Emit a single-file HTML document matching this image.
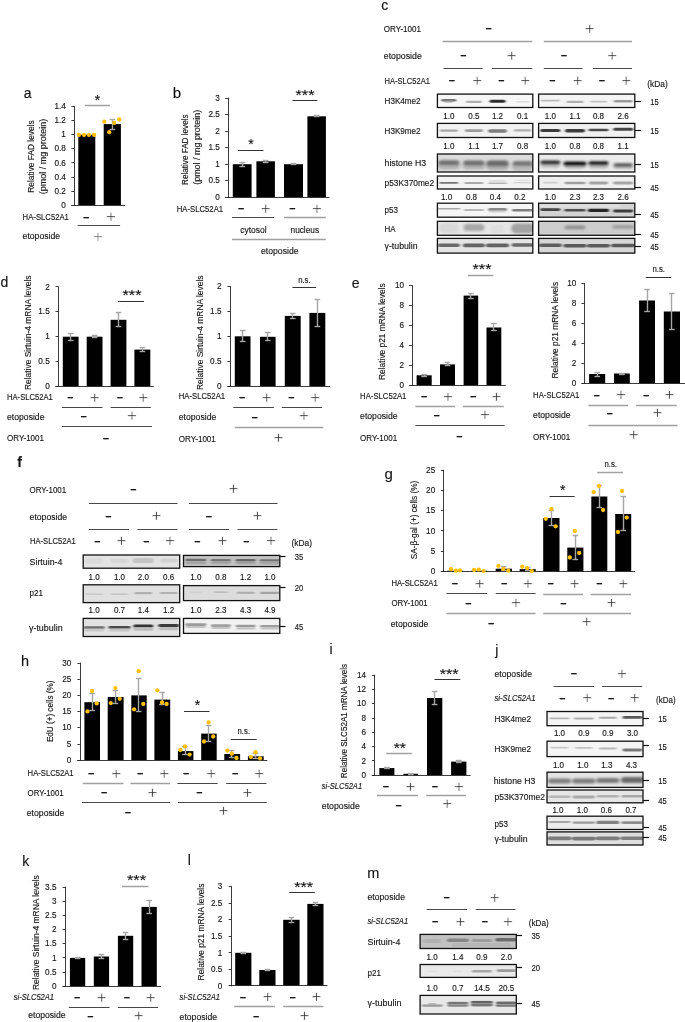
<!DOCTYPE html>
<html lang="en"><head><meta charset="utf-8"><title>Figure</title>
<style>html,body{margin:0;padding:0;background:#fff}svg{display:block;will-change:transform;opacity:.999}text{font-family:"Liberation Sans",sans-serif;fill:#111;stroke:#222;stroke-width:.14px}</style>
</head><body>
<svg width="685" height="1022" viewBox="0 0 685 1022">
<defs><filter id="b1" x="-20%" y="-50%" width="140%" height="200%"><feGaussianBlur stdDeviation="1.1 0.6"/></filter><filter id="b2" x="-20%" y="-50%" width="140%" height="200%"><feGaussianBlur stdDeviation="1.6 1.1"/></filter></defs>
<rect width="685" height="1022" fill="#fff"/>
<text x="23.8" y="98.0" font-size="14">a</text>
<rect x="78.3" y="134.7" width="17.0" height="70.5" fill="#000"/>
<rect x="103.7" y="124.1" width="17.2" height="81.1" fill="#000"/>
<line x1="74.5" y1="106.1" x2="74.5" y2="205.6" stroke="#262626" stroke-width="0.9"/>
<line x1="71.4" y1="205.5" x2="125.0" y2="205.5" stroke="#262626" stroke-width="0.9"/>
<line x1="71.4" y1="205.5" x2="74.4" y2="205.5" stroke="#262626" stroke-width="0.9"/>
<text x="65.8" y="208.0" font-size="8.2" text-anchor="end" fill="#222">0</text>
<line x1="71.4" y1="191.5" x2="74.4" y2="191.5" stroke="#262626" stroke-width="0.9"/>
<text x="65.8" y="194.0" font-size="8.2" text-anchor="end" fill="#222">0.2</text>
<line x1="71.4" y1="177.5" x2="74.4" y2="177.5" stroke="#262626" stroke-width="0.9"/>
<text x="65.8" y="180.0" font-size="8.2" text-anchor="end" fill="#222">0.4</text>
<line x1="71.4" y1="162.5" x2="74.4" y2="162.5" stroke="#262626" stroke-width="0.9"/>
<text x="65.8" y="166.0" font-size="8.2" text-anchor="end" fill="#222">0.6</text>
<line x1="71.4" y1="148.5" x2="74.4" y2="148.5" stroke="#262626" stroke-width="0.9"/>
<text x="65.8" y="151.0" font-size="8.2" text-anchor="end" fill="#222">0.8</text>
<line x1="71.4" y1="134.5" x2="74.4" y2="134.5" stroke="#262626" stroke-width="0.9"/>
<text x="65.8" y="137.0" font-size="8.2" text-anchor="end" fill="#222">1</text>
<line x1="71.4" y1="120.5" x2="74.4" y2="120.5" stroke="#262626" stroke-width="0.9"/>
<text x="65.8" y="123.0" font-size="8.2" text-anchor="end" fill="#222">1.2</text>
<line x1="71.4" y1="106.5" x2="74.4" y2="106.5" stroke="#262626" stroke-width="0.9"/>
<text x="65.8" y="109.0" font-size="8.2" text-anchor="end" fill="#222">1.4</text>
<line x1="112.5" y1="119.3" x2="112.5" y2="129.4" stroke="#a6a6a6" stroke-width="1.4"/>
<line x1="109.6" y1="119.5" x2="115.2" y2="119.5" stroke="#a6a6a6" stroke-width="1.4"/>
<line x1="109.6" y1="129.5" x2="115.2" y2="129.5" stroke="#a6a6a6" stroke-width="1.4"/>
<circle cx="78.9" cy="134.9" r="2.15" fill="#ffc000"/>
<circle cx="84.1" cy="134.9" r="2.15" fill="#ffc000"/>
<circle cx="88.9" cy="134.9" r="2.15" fill="#ffc000"/>
<circle cx="94.1" cy="134.9" r="2.15" fill="#ffc000"/>
<circle cx="104.3" cy="121.7" r="2.15" fill="#ffc000"/>
<circle cx="109.2" cy="132.2" r="2.15" fill="#ffc000"/>
<circle cx="114.3" cy="122.9" r="2.15" fill="#ffc000"/>
<circle cx="119.3" cy="119.5" r="2.15" fill="#ffc000"/>
<line x1="84.8" y1="105.5" x2="109.9" y2="105.5" stroke="#a0a0a0" stroke-width="1.5"/>
<text x="97.4" y="105.0" font-size="14" text-anchor="middle">*</text>
<text transform="translate(34 156.5) rotate(-90)" x="0" y="0" font-size="8.5" text-anchor="middle" textLength="72.5" lengthAdjust="spacingAndGlyphs">Relative FAD levels</text>
<text transform="translate(46 156.5) rotate(-90)" x="0" y="0" font-size="8.5" text-anchor="middle" textLength="75.5" lengthAdjust="spacingAndGlyphs">(pmol / mg protein)</text>
<text x="22.6" y="220.0" font-size="8.5" textLength="46.3" lengthAdjust="spacingAndGlyphs">HA-SLC52A1</text>
<text x="86.2" y="220.60" font-size="10.5" font-weight="bold" text-anchor="middle" style="stroke:#111;stroke-width:.25px">–</text>
<text x="110.9" y="222.3" font-size="17" text-anchor="middle" style="fill:#222;stroke:#fff;stroke-width:.42px">+</text>
<line x1="77.6" y1="225.5" x2="120.1" y2="225.5" stroke="#333" stroke-width="0.9"/>
<text x="22.6" y="239.0" font-size="8.5" textLength="37.5" lengthAdjust="spacingAndGlyphs">etoposide</text>
<text x="98.0" y="241.5" font-size="17" text-anchor="middle" style="fill:#666;stroke:#fff;stroke-width:.42px">+</text>
<text x="172.8" y="98.0" font-size="15">b</text>
<rect x="232.8" y="164.2" width="18.8" height="33.1" fill="#000"/>
<rect x="256.4" y="161.3" width="18.5" height="36.0" fill="#000"/>
<rect x="284.0" y="164.2" width="19.0" height="33.1" fill="#000"/>
<rect x="307.4" y="116.3" width="18.5" height="81.0" fill="#000"/>
<line x1="228.5" y1="97.7" x2="228.5" y2="197.7" stroke="#262626" stroke-width="0.9"/>
<line x1="225.2" y1="197.5" x2="329.6" y2="197.5" stroke="#262626" stroke-width="0.9"/>
<line x1="225.2" y1="197.5" x2="228.2" y2="197.5" stroke="#262626" stroke-width="0.9"/>
<text x="219.8" y="200.0" font-size="8.2" text-anchor="end" fill="#222">0</text>
<line x1="225.2" y1="180.5" x2="228.2" y2="180.5" stroke="#262626" stroke-width="0.9"/>
<text x="219.8" y="183.0" font-size="8.2" text-anchor="end" fill="#222">0.5</text>
<line x1="225.2" y1="164.5" x2="228.2" y2="164.5" stroke="#262626" stroke-width="0.9"/>
<text x="219.8" y="167.0" font-size="8.2" text-anchor="end" fill="#222">1</text>
<line x1="225.2" y1="147.5" x2="228.2" y2="147.5" stroke="#262626" stroke-width="0.9"/>
<text x="219.8" y="150.0" font-size="8.2" text-anchor="end" fill="#222">1.5</text>
<line x1="225.2" y1="131.5" x2="228.2" y2="131.5" stroke="#262626" stroke-width="0.9"/>
<text x="219.8" y="134.0" font-size="8.2" text-anchor="end" fill="#222">2</text>
<line x1="225.2" y1="114.5" x2="228.2" y2="114.5" stroke="#262626" stroke-width="0.9"/>
<text x="219.8" y="117.0" font-size="8.2" text-anchor="end" fill="#222">2.5</text>
<line x1="225.2" y1="98.5" x2="228.2" y2="98.5" stroke="#262626" stroke-width="0.9"/>
<text x="219.8" y="101.0" font-size="8.2" text-anchor="end" fill="#222">3</text>
<line x1="242.5" y1="162.2" x2="242.5" y2="166.2" stroke="#a6a6a6" stroke-width="1.4"/>
<line x1="239.4" y1="162.5" x2="245.0" y2="162.5" stroke="#a6a6a6" stroke-width="1.4"/>
<line x1="239.4" y1="166.5" x2="245.0" y2="166.5" stroke="#a6a6a6" stroke-width="1.4"/>
<line x1="265.5" y1="160.3" x2="265.5" y2="162.2" stroke="#a6a6a6" stroke-width="1.4"/>
<line x1="262.8" y1="160.5" x2="268.4" y2="160.5" stroke="#a6a6a6" stroke-width="1.4"/>
<line x1="262.8" y1="162.5" x2="268.4" y2="162.5" stroke="#a6a6a6" stroke-width="1.4"/>
<line x1="293.5" y1="163.6" x2="293.5" y2="164.9" stroke="#a6a6a6" stroke-width="1.4"/>
<line x1="290.7" y1="163.5" x2="296.3" y2="163.5" stroke="#a6a6a6" stroke-width="1.4"/>
<line x1="290.7" y1="164.5" x2="296.3" y2="164.5" stroke="#a6a6a6" stroke-width="1.4"/>
<line x1="316.5" y1="115.6" x2="316.5" y2="116.9" stroke="#a6a6a6" stroke-width="1.4"/>
<line x1="313.8" y1="115.5" x2="319.4" y2="115.5" stroke="#a6a6a6" stroke-width="1.4"/>
<line x1="313.8" y1="116.5" x2="319.4" y2="116.5" stroke="#a6a6a6" stroke-width="1.4"/>
<line x1="238.0" y1="150.5" x2="263.5" y2="150.5" stroke="#333" stroke-width="1"/>
<text x="250.9" y="149.0" font-size="14" text-anchor="middle">*</text>
<line x1="292.4" y1="100.5" x2="317.4" y2="100.5" stroke="#333" stroke-width="1"/>
<text x="305.0" y="100.0" font-size="14" text-anchor="middle" textLength="19.0" lengthAdjust="spacingAndGlyphs">***</text>
<text transform="translate(188 149.7) rotate(-90)" x="0" y="0" font-size="8.5" text-anchor="middle" textLength="70.5" lengthAdjust="spacingAndGlyphs">Relative FAD levels</text>
<text transform="translate(200 147.3) rotate(-90)" x="0" y="0" font-size="8.5" text-anchor="middle" textLength="75.0" lengthAdjust="spacingAndGlyphs">(pmol / mg protein)</text>
<text x="176.8" y="212.0" font-size="8.5" textLength="46.3" lengthAdjust="spacingAndGlyphs">HA-SLC52A1</text>
<text x="241.2" y="212.30" font-size="10.5" font-weight="bold" text-anchor="middle" style="stroke:#111;stroke-width:.25px">–</text>
<text x="265.6" y="214.0" font-size="17" text-anchor="middle" style="fill:#222;stroke:#fff;stroke-width:.42px">+</text>
<text x="292.4" y="212.30" font-size="10.5" font-weight="bold" text-anchor="middle" style="stroke:#111;stroke-width:.25px">–</text>
<text x="316.9" y="214.0" font-size="17" text-anchor="middle" style="fill:#222;stroke:#fff;stroke-width:.42px">+</text>
<line x1="232.0" y1="217.5" x2="274.0" y2="217.5" stroke="#333" stroke-width="0.9"/>
<line x1="284.0" y1="217.5" x2="325.8" y2="217.5" stroke="#a0a0a0" stroke-width="1.5"/>
<text x="253.5" y="233.0" font-size="8.5" text-anchor="middle" textLength="26.5" lengthAdjust="spacingAndGlyphs">cytosol</text>
<text x="304.8" y="233.0" font-size="8.5" text-anchor="middle" textLength="28.5" lengthAdjust="spacingAndGlyphs">nucleus</text>
<line x1="232.0" y1="239.5" x2="325.8" y2="239.5" stroke="#a0a0a0" stroke-width="1.5"/>
<text x="279.8" y="254.0" font-size="8.5" text-anchor="middle" textLength="37.5" lengthAdjust="spacingAndGlyphs">etoposide</text>
<text x="381.3" y="10.0" font-size="14">c</text>
<text x="383.8" y="32.0" font-size="8.5" textLength="37.2" lengthAdjust="spacingAndGlyphs">ORY-1001</text>
<text x="488.6" y="32.10" font-size="10.5" font-weight="bold" text-anchor="middle" style="stroke:#111;stroke-width:.25px">–</text>
<text x="589.8" y="33.6" font-size="17" text-anchor="middle" style="fill:#222;stroke:#fff;stroke-width:.42px">+</text>
<line x1="442.6" y1="41.5" x2="532.3" y2="41.5" stroke="#a0a0a0" stroke-width="1.5"/>
<line x1="543.8" y1="41.5" x2="632.0" y2="41.5" stroke="#a0a0a0" stroke-width="1.5"/>
<text x="383.8" y="59.0" font-size="8.5" textLength="38.0" lengthAdjust="spacingAndGlyphs">etoposide</text>
<text x="463.3" y="59.20" font-size="10.5" font-weight="bold" text-anchor="middle" style="stroke:#111;stroke-width:.25px">–</text>
<text x="511.6" y="60.9" font-size="17" text-anchor="middle" style="fill:#222;stroke:#fff;stroke-width:.42px">+</text>
<text x="564.0" y="59.20" font-size="10.5" font-weight="bold" text-anchor="middle" style="stroke:#111;stroke-width:.25px">–</text>
<text x="612.3" y="60.9" font-size="17" text-anchor="middle" style="fill:#222;stroke:#fff;stroke-width:.42px">+</text>
<line x1="443.6" y1="68.5" x2="482.6" y2="68.5" stroke="#333" stroke-width="0.9"/>
<line x1="491.8" y1="68.5" x2="532.3" y2="68.5" stroke="#333" stroke-width="0.9"/>
<line x1="543.8" y1="68.5" x2="582.4" y2="68.5" stroke="#333" stroke-width="0.9"/>
<line x1="593.0" y1="68.5" x2="632.0" y2="68.5" stroke="#333" stroke-width="0.9"/>
<text x="384.6" y="84.0" font-size="8.5" textLength="45.3" lengthAdjust="spacingAndGlyphs">HA-SLC52A1</text>
<text x="452.0" y="84.00" font-size="10.5" font-weight="bold" text-anchor="middle" style="stroke:#111;stroke-width:.25px">–</text>
<text x="477.2" y="85.7" font-size="17" text-anchor="middle" style="fill:#222;stroke:#fff;stroke-width:.42px">+</text>
<text x="501.5" y="84.00" font-size="10.5" font-weight="bold" text-anchor="middle" style="stroke:#111;stroke-width:.25px">–</text>
<text x="525.3" y="85.7" font-size="17" text-anchor="middle" style="fill:#222;stroke:#fff;stroke-width:.42px">+</text>
<text x="552.5" y="84.00" font-size="10.5" font-weight="bold" text-anchor="middle" style="stroke:#111;stroke-width:.25px">–</text>
<text x="577.7" y="85.7" font-size="17" text-anchor="middle" style="fill:#222;stroke:#fff;stroke-width:.42px">+</text>
<text x="601.8" y="84.00" font-size="10.5" font-weight="bold" text-anchor="middle" style="stroke:#111;stroke-width:.25px">–</text>
<text x="626.3" y="85.7" font-size="17" text-anchor="middle" style="fill:#222;stroke:#fff;stroke-width:.42px">+</text>
<text x="647.2" y="87.0" font-size="8.5" textLength="20.5" lengthAdjust="spacingAndGlyphs">(kDa)</text>
<text x="384.6" y="104.0" font-size="8.5" textLength="36.0" lengthAdjust="spacingAndGlyphs">H3K4me2</text>
<clipPath id="c1"><rect x="437.4" y="94.1" width="95.4" height="13.4"/></clipPath>
<g clip-path="url(#c1)">
<rect x="437.4" y="94.1" width="95.4" height="13.4" fill="#f7f7f7"/>
<g filter="url(#b1)">
<rect x="441.3" y="98.9" width="15.0" height="2.6" rx="1.3" fill="#6e6e6e"/>
<rect x="444.3" y="100.6" width="9.0" height="2.0" rx="1.0" fill="#a0a0a0"/>
<rect x="465.9" y="100.7" width="16.0" height="2.2" rx="1.1" fill="#b0b0b0"/>
<rect x="489.5" y="99.7" width="16.0" height="3.0" rx="1.5" fill="#2e2e2e"/>
<rect x="516.1" y="101.0" width="13.0" height="1.6" rx="0.8" fill="#dadada"/>
</g></g>
<rect x="437.4" y="94.1" width="95.4" height="13.4" fill="none" stroke="#111" stroke-width="1.3"/>
<clipPath id="c2"><rect x="538.6" y="94.1" width="96.2" height="13.4"/></clipPath>
<g clip-path="url(#c2)">
<rect x="538.6" y="94.1" width="96.2" height="13.4" fill="#f4f4f4"/>
<g filter="url(#b1)">
<rect x="540.8" y="99.8" width="19.0" height="1.6" rx="0.8" fill="#b8b8b8"/>
<rect x="566.5" y="100.7" width="17.0" height="2.4" rx="1.2" fill="#b0b0b0"/>
<rect x="590.0" y="100.8" width="17.0" height="1.6" rx="0.8" fill="#c2c2c2"/>
<rect x="613.7" y="100.0" width="19.0" height="2.4" rx="1.2" fill="#9a9a9a"/>
</g></g>
<rect x="538.6" y="94.1" width="96.2" height="13.4" fill="none" stroke="#111" stroke-width="1.3"/>
<line x1="634.8" y1="101.5" x2="641.0" y2="101.5" stroke="#111" stroke-width="1.2"/>
<text x="650.3" y="105.0" font-size="8.6" textLength="8.5" lengthAdjust="spacingAndGlyphs" fill="#222">15</text>
<text x="448.8" y="119.0" font-size="8.6" text-anchor="middle" textLength="11.2" lengthAdjust="spacingAndGlyphs" fill="#222">1.0</text>
<text x="473.9" y="119.0" font-size="8.6" text-anchor="middle" textLength="11.2" lengthAdjust="spacingAndGlyphs" fill="#222">0.5</text>
<text x="497.5" y="119.0" font-size="8.6" text-anchor="middle" textLength="11.2" lengthAdjust="spacingAndGlyphs" fill="#222">1.2</text>
<text x="522.6" y="119.0" font-size="8.6" text-anchor="middle" textLength="11.2" lengthAdjust="spacingAndGlyphs" fill="#222">0.1</text>
<text x="550.3" y="119.0" font-size="8.6" text-anchor="middle" textLength="11.2" lengthAdjust="spacingAndGlyphs" fill="#222">1.0</text>
<text x="575.0" y="119.0" font-size="8.6" text-anchor="middle" textLength="11.2" lengthAdjust="spacingAndGlyphs" fill="#222">1.1</text>
<text x="598.5" y="119.0" font-size="8.6" text-anchor="middle" textLength="11.2" lengthAdjust="spacingAndGlyphs" fill="#222">0.8</text>
<text x="623.2" y="119.0" font-size="8.6" text-anchor="middle" textLength="11.2" lengthAdjust="spacingAndGlyphs" fill="#222">2.6</text>
<text x="384.6" y="134.0" font-size="8.5" textLength="36.0" lengthAdjust="spacingAndGlyphs">H3K9me2</text>
<clipPath id="c3"><rect x="437.4" y="123.4" width="95.4" height="14.1"/></clipPath>
<g clip-path="url(#c3)">
<rect x="437.4" y="123.4" width="95.4" height="14.1" fill="#f2f2f2"/>
<g filter="url(#b1)">
<rect x="439.8" y="129.4" width="18.0" height="2.4" rx="1.2" fill="#a6a6a6"/>
<rect x="464.9" y="129.3" width="18.0" height="2.6" rx="1.3" fill="#9c9c9c"/>
<rect x="488.0" y="129.2" width="19.0" height="3.6" rx="1.8" fill="#7c7c7c"/>
<rect x="514.1" y="129.2" width="17.0" height="2.4" rx="1.2" fill="#adadad"/>
</g></g>
<rect x="437.4" y="123.4" width="95.4" height="14.1" fill="none" stroke="#111" stroke-width="1.3"/>
<clipPath id="c4"><rect x="538.6" y="123.4" width="96.2" height="14.1"/></clipPath>
<g clip-path="url(#c4)">
<rect x="538.6" y="123.4" width="96.2" height="14.1" fill="#f0f0f0"/>
<g filter="url(#b1)">
<rect x="540.3" y="128.9" width="20.0" height="3.0" rx="1.5" fill="#3a3a3a"/>
<rect x="565.0" y="129.0" width="20.0" height="3.6" rx="1.8" fill="#3c3c3c"/>
<rect x="588.5" y="128.7" width="20.0" height="2.6" rx="1.3" fill="#484848"/>
<rect x="613.2" y="127.7" width="20.0" height="3.0" rx="1.5" fill="#444"/>
</g></g>
<rect x="538.6" y="123.4" width="96.2" height="14.1" fill="none" stroke="#111" stroke-width="1.3"/>
<line x1="634.8" y1="130.5" x2="641.0" y2="130.5" stroke="#111" stroke-width="1.2"/>
<text x="650.3" y="134.0" font-size="8.6" textLength="8.5" lengthAdjust="spacingAndGlyphs" fill="#222">15</text>
<text x="448.8" y="149.0" font-size="8.6" text-anchor="middle" textLength="11.2" lengthAdjust="spacingAndGlyphs" fill="#222">1.0</text>
<text x="473.9" y="149.0" font-size="8.6" text-anchor="middle" textLength="11.2" lengthAdjust="spacingAndGlyphs" fill="#222">1.1</text>
<text x="497.5" y="149.0" font-size="8.6" text-anchor="middle" textLength="11.2" lengthAdjust="spacingAndGlyphs" fill="#222">1.7</text>
<text x="522.6" y="149.0" font-size="8.6" text-anchor="middle" textLength="11.2" lengthAdjust="spacingAndGlyphs" fill="#222">0.8</text>
<text x="550.3" y="149.0" font-size="8.6" text-anchor="middle" textLength="11.2" lengthAdjust="spacingAndGlyphs" fill="#222">1.0</text>
<text x="575.0" y="149.0" font-size="8.6" text-anchor="middle" textLength="11.2" lengthAdjust="spacingAndGlyphs" fill="#222">0.8</text>
<text x="598.5" y="149.0" font-size="8.6" text-anchor="middle" textLength="11.2" lengthAdjust="spacingAndGlyphs" fill="#222">0.8</text>
<text x="623.2" y="149.0" font-size="8.6" text-anchor="middle" textLength="11.2" lengthAdjust="spacingAndGlyphs" fill="#222">1.1</text>
<text x="384.6" y="166.0" font-size="8.5" textLength="41.5" lengthAdjust="spacingAndGlyphs">histone H3</text>
<clipPath id="c5"><rect x="437.4" y="154.0" width="95.4" height="18.0"/></clipPath>
<g clip-path="url(#c5)">
<rect x="437.4" y="154.0" width="95.4" height="18.0" fill="#dcdcdc"/>
<g filter="url(#b2)">
<rect x="437.3" y="160.5" width="23.0" height="9.0" rx="4.5" fill="#b4b4b4"/>
<rect x="462.4" y="160.5" width="23.0" height="9.0" rx="4.5" fill="#b4b4b4"/>
<rect x="486.0" y="160.4" width="23.0" height="10.0" rx="5.0" fill="#b0b0b0"/>
<rect x="511.6" y="161.0" width="22.0" height="10.0" rx="5.0" fill="#b6b6b6"/>
<rect x="438.3" y="160.3" width="21.0" height="5.0" rx="2.5" fill="#727272"/>
<rect x="463.4" y="160.5" width="21.0" height="5.0" rx="2.5" fill="#707070"/>
<rect x="486.5" y="160.6" width="22.0" height="5.6" rx="2.8" fill="#6a6a6a"/>
<rect x="512.6" y="160.9" width="20.0" height="5.0" rx="2.5" fill="#787878"/>
</g></g>
<rect x="437.4" y="154.0" width="95.4" height="18.0" fill="none" stroke="#111" stroke-width="1.3"/>
<clipPath id="c6"><rect x="538.6" y="154.0" width="96.2" height="18.0"/></clipPath>
<g clip-path="url(#c6)">
<rect x="538.6" y="154.0" width="96.2" height="18.0" fill="#ebebeb"/>
<g filter="url(#b2)">
<rect x="540.3" y="160.9" width="20.0" height="7.0" rx="3.5" fill="#c0c0c0"/>
<rect x="564.0" y="161.5" width="22.0" height="7.0" rx="3.5" fill="#b0b0b0"/>
<rect x="588.5" y="161.5" width="20.0" height="7.0" rx="3.5" fill="#b8b8b8"/>
<rect x="613.2" y="163.0" width="20.0" height="6.0" rx="3.0" fill="#b8b8b8"/>
<rect x="540.3" y="160.4" width="20.0" height="4.0" rx="2.0" fill="#2a2a2a"/>
<rect x="563.5" y="161.5" width="23.0" height="4.6" rx="2.3" fill="#101010"/>
<rect x="588.5" y="161.2" width="20.0" height="4.0" rx="2.0" fill="#181818"/>
<rect x="613.7" y="163.2" width="19.0" height="3.6" rx="1.8" fill="#5a5a5a"/>
</g></g>
<rect x="538.6" y="154.0" width="96.2" height="18.0" fill="none" stroke="#111" stroke-width="1.3"/>
<line x1="634.8" y1="164.5" x2="641.0" y2="164.5" stroke="#111" stroke-width="1.2"/>
<text x="650.3" y="168.0" font-size="8.6" textLength="8.5" lengthAdjust="spacingAndGlyphs" fill="#222">15</text>
<text x="384.6" y="186.0" font-size="8.5" textLength="49.5" lengthAdjust="spacingAndGlyphs">p53K370me2</text>
<clipPath id="c7"><rect x="437.4" y="176.0" width="95.4" height="13.0"/></clipPath>
<g clip-path="url(#c7)">
<rect x="437.4" y="176.0" width="95.4" height="13.0" fill="#f3f3f3"/>
<g filter="url(#b1)">
<rect x="439.3" y="181.9" width="19.0" height="1.8" rx="0.9" fill="#747474"/>
<rect x="464.4" y="182.2" width="19.0" height="1.6" rx="0.8" fill="#909090"/>
<rect x="488.0" y="182.5" width="19.0" height="1.4" rx="0.7" fill="#b4b4b4"/>
<rect x="489.0" y="180.2" width="17.0" height="1.2" rx="0.6" fill="#d6d6d6"/>
<rect x="513.6" y="181.9" width="18.0" height="1.4" rx="0.7" fill="#d0d0d0"/>
<rect x="514.6" y="179.8" width="16.0" height="1.2" rx="0.6" fill="#e0e0e0"/>
</g></g>
<rect x="437.4" y="176.0" width="95.4" height="13.0" fill="none" stroke="#111" stroke-width="1.3"/>
<clipPath id="c8"><rect x="538.6" y="176.0" width="96.2" height="13.0"/></clipPath>
<g clip-path="url(#c8)">
<rect x="538.6" y="176.0" width="96.2" height="13.0" fill="#efefef"/>
<g filter="url(#b1)">
<rect x="542.8" y="181.7" width="15.0" height="1.8" rx="0.9" fill="#cdcdcd"/>
<rect x="564.5" y="181.7" width="21.0" height="2.6" rx="1.3" fill="#a0a0a0"/>
<rect x="589.0" y="181.6" width="19.0" height="2.8" rx="1.4" fill="#a4a4a4"/>
<rect x="613.2" y="181.6" width="20.0" height="2.8" rx="1.4" fill="#a6a6a6"/>
</g></g>
<rect x="538.6" y="176.0" width="96.2" height="13.0" fill="none" stroke="#111" stroke-width="1.3"/>
<line x1="634.8" y1="187.5" x2="641.0" y2="187.5" stroke="#111" stroke-width="1.2"/>
<text x="650.3" y="191.0" font-size="8.6" textLength="8.5" lengthAdjust="spacingAndGlyphs" fill="#222">45</text>
<text x="446.7" y="200.0" font-size="8.6" text-anchor="middle" textLength="11.2" lengthAdjust="spacingAndGlyphs" fill="#222">1.0</text>
<text x="471.5" y="200.0" font-size="8.6" text-anchor="middle" textLength="11.2" lengthAdjust="spacingAndGlyphs" fill="#222">0.8</text>
<text x="495.4" y="200.0" font-size="8.6" text-anchor="middle" textLength="11.2" lengthAdjust="spacingAndGlyphs" fill="#222">0.4</text>
<text x="519.9" y="200.0" font-size="8.6" text-anchor="middle" textLength="11.2" lengthAdjust="spacingAndGlyphs" fill="#222">0.2</text>
<text x="550.3" y="200.0" font-size="8.6" text-anchor="middle" textLength="11.2" lengthAdjust="spacingAndGlyphs" fill="#222">1.0</text>
<text x="575.0" y="200.0" font-size="8.6" text-anchor="middle" textLength="11.2" lengthAdjust="spacingAndGlyphs" fill="#222">2.3</text>
<text x="598.5" y="200.0" font-size="8.6" text-anchor="middle" textLength="11.2" lengthAdjust="spacingAndGlyphs" fill="#222">2.3</text>
<text x="623.2" y="200.0" font-size="8.6" text-anchor="middle" textLength="11.2" lengthAdjust="spacingAndGlyphs" fill="#222">2.6</text>
<text x="384.6" y="213.0" font-size="8.5" textLength="13.5" lengthAdjust="spacingAndGlyphs">p53</text>
<clipPath id="c9"><rect x="437.4" y="203.2" width="95.4" height="14.0"/></clipPath>
<g clip-path="url(#c9)">
<rect x="437.4" y="203.2" width="95.4" height="14.0" fill="#f5f5f5"/>
<g filter="url(#b1)">
<rect x="437.3" y="208.1" width="23.0" height="1.4" rx="0.7" fill="#a8a8a8"/>
<rect x="463.9" y="209.2" width="20.0" height="1.6" rx="0.8" fill="#a2a2a2"/>
<rect x="488.0" y="207.9" width="19.0" height="3.0" rx="1.5" fill="#8a8a8a"/>
<rect x="489.0" y="210.4" width="17.0" height="2.0" rx="1.0" fill="#d0d0d0"/>
<rect x="512.1" y="209.0" width="21.0" height="2.4" rx="1.2" fill="#7e7e7e"/>
</g></g>
<rect x="437.4" y="203.2" width="95.4" height="14.0" fill="none" stroke="#111" stroke-width="1.3"/>
<clipPath id="c10"><rect x="538.6" y="203.2" width="96.2" height="14.0"/></clipPath>
<g clip-path="url(#c10)">
<rect x="538.6" y="203.2" width="96.2" height="14.0" fill="#d3d3d3"/>
<g filter="url(#b1)">
<rect x="540.3" y="208.2" width="20.0" height="2.8" rx="1.4" fill="#444"/>
<rect x="564.5" y="208.9" width="21.0" height="2.6" rx="1.3" fill="#4e4e4e"/>
<rect x="588.0" y="208.8" width="21.0" height="3.2" rx="1.6" fill="#262626"/>
<rect x="613.2" y="209.6" width="20.0" height="2.8" rx="1.4" fill="#3e3e3e"/>
<rect x="530.0" y="204.5" width="90.0" height="3.0" rx="1.5" fill="#e0e0e0"/>
</g></g>
<rect x="538.6" y="203.2" width="96.2" height="14.0" fill="none" stroke="#111" stroke-width="1.3"/>
<line x1="634.8" y1="214.5" x2="641.0" y2="214.5" stroke="#111" stroke-width="1.2"/>
<text x="650.3" y="218.0" font-size="8.6" textLength="8.5" lengthAdjust="spacingAndGlyphs" fill="#222">45</text>
<text x="384.6" y="232.0" font-size="8.5" textLength="11.0" lengthAdjust="spacingAndGlyphs">HA</text>
<clipPath id="c11"><rect x="437.4" y="221.3" width="95.4" height="14.0"/></clipPath>
<g clip-path="url(#c11)">
<rect x="437.4" y="221.3" width="95.4" height="14.0" fill="#e6e6e6"/>
<g filter="url(#b2)">
<rect x="438.8" y="223.0" width="20.0" height="10.0" rx="5.0" fill="#d8d8d8"/>
<rect x="463.4" y="224.1" width="21.0" height="7.0" rx="3.5" fill="#a8a8a8"/>
<rect x="511.1" y="223.4" width="23.0" height="10.0" rx="5.0" fill="#a2a2a2"/>
<rect x="490.5" y="225.0" width="14.0" height="8.0" rx="4.0" fill="#dedede"/>
</g></g>
<rect x="437.4" y="221.3" width="95.4" height="14.0" fill="none" stroke="#111" stroke-width="1.3"/>
<clipPath id="c12"><rect x="538.6" y="221.3" width="96.2" height="14.0"/></clipPath>
<g clip-path="url(#c12)">
<rect x="538.6" y="221.3" width="96.2" height="14.0" fill="#cdcdcd"/>
<g filter="url(#b2)">
<rect x="564.5" y="225.9" width="21.0" height="3.4" rx="1.7" fill="#8c8c8c"/>
<rect x="612.2" y="225.2" width="22.0" height="3.2" rx="1.6" fill="#9a9a9a"/>
<rect x="565.5" y="225.0" width="19.0" height="1.6" rx="0.8" fill="#a8a8a8"/>
</g></g>
<rect x="538.6" y="221.3" width="96.2" height="14.0" fill="none" stroke="#111" stroke-width="1.3"/>
<line x1="634.8" y1="234.5" x2="641.0" y2="234.5" stroke="#111" stroke-width="1.2"/>
<text x="650.3" y="238.0" font-size="8.6" textLength="8.5" lengthAdjust="spacingAndGlyphs" fill="#222">45</text>
<text x="384.6" y="249.0" font-size="8.5" textLength="33.0" lengthAdjust="spacingAndGlyphs">γ-tubulin</text>
<clipPath id="c13"><rect x="437.4" y="238.4" width="95.4" height="14.7"/></clipPath>
<g clip-path="url(#c13)">
<rect x="437.4" y="238.4" width="95.4" height="14.7" fill="#e4e4e4"/>
<g filter="url(#b1)">
<rect x="437.8" y="243.4" width="22.0" height="3.6" rx="1.8" fill="#686868"/>
<rect x="462.9" y="243.6" width="22.0" height="3.6" rx="1.8" fill="#646464"/>
<rect x="486.0" y="243.6" width="23.0" height="3.6" rx="1.8" fill="#626262"/>
<rect x="511.6" y="243.3" width="22.0" height="3.4" rx="1.7" fill="#6a6a6a"/>
</g></g>
<rect x="437.4" y="238.4" width="95.4" height="14.7" fill="none" stroke="#111" stroke-width="1.3"/>
<clipPath id="c14"><rect x="538.6" y="238.4" width="96.2" height="14.7"/></clipPath>
<g clip-path="url(#c14)">
<rect x="538.6" y="238.4" width="96.2" height="14.7" fill="#d6d6d6"/>
<g filter="url(#b1)">
<rect x="538.8" y="243.6" width="23.0" height="3.4" rx="1.7" fill="#5e5e5e"/>
<rect x="563.5" y="244.0" width="23.0" height="3.4" rx="1.7" fill="#585858"/>
<rect x="587.0" y="244.0" width="23.0" height="3.4" rx="1.7" fill="#5a5a5a"/>
<rect x="611.2" y="243.8" width="24.0" height="3.4" rx="1.7" fill="#585858"/>
</g></g>
<rect x="538.6" y="238.4" width="96.2" height="14.7" fill="none" stroke="#111" stroke-width="1.3"/>
<line x1="634.8" y1="246.5" x2="641.0" y2="246.5" stroke="#111" stroke-width="1.2"/>
<text x="650.3" y="250.0" font-size="8.6" textLength="8.5" lengthAdjust="spacingAndGlyphs" fill="#222">45</text>
<text x="0.4" y="287.0" font-size="14">d</text>
<rect x="62.8" y="336.7" width="15.8" height="49.8" fill="#000"/>
<rect x="86.7" y="336.7" width="15.8" height="49.8" fill="#000"/>
<rect x="110.6" y="319.8" width="15.8" height="66.7" fill="#000"/>
<rect x="134.4" y="349.6" width="15.9" height="36.9" fill="#000"/>
<line x1="58.5" y1="286.5" x2="58.5" y2="386.9" stroke="#262626" stroke-width="0.9"/>
<line x1="55.5" y1="386.5" x2="153.8" y2="386.5" stroke="#262626" stroke-width="0.9"/>
<line x1="55.5" y1="386.5" x2="58.5" y2="386.5" stroke="#262626" stroke-width="0.9"/>
<text x="49.7" y="389.0" font-size="8.2" text-anchor="end" fill="#222">0</text>
<line x1="55.5" y1="361.5" x2="58.5" y2="361.5" stroke="#262626" stroke-width="0.9"/>
<text x="49.7" y="364.0" font-size="8.2" text-anchor="end" fill="#222">0.5</text>
<line x1="55.5" y1="336.5" x2="58.5" y2="336.5" stroke="#262626" stroke-width="0.9"/>
<text x="49.7" y="339.0" font-size="8.2" text-anchor="end" fill="#222">1</text>
<line x1="55.5" y1="311.5" x2="58.5" y2="311.5" stroke="#262626" stroke-width="0.9"/>
<text x="49.7" y="314.0" font-size="8.2" text-anchor="end" fill="#222">1.5</text>
<line x1="55.5" y1="286.5" x2="58.5" y2="286.5" stroke="#262626" stroke-width="0.9"/>
<text x="49.7" y="290.0" font-size="8.2" text-anchor="end" fill="#222">2</text>
<line x1="70.5" y1="333.2" x2="70.5" y2="340.2" stroke="#a6a6a6" stroke-width="1.4"/>
<line x1="67.9" y1="333.5" x2="73.5" y2="333.5" stroke="#a6a6a6" stroke-width="1.4"/>
<line x1="67.9" y1="340.5" x2="73.5" y2="340.5" stroke="#a6a6a6" stroke-width="1.4"/>
<line x1="94.5" y1="335.7" x2="94.5" y2="337.7" stroke="#a6a6a6" stroke-width="1.4"/>
<line x1="91.8" y1="335.5" x2="97.4" y2="335.5" stroke="#a6a6a6" stroke-width="1.4"/>
<line x1="91.8" y1="337.5" x2="97.4" y2="337.5" stroke="#a6a6a6" stroke-width="1.4"/>
<line x1="118.5" y1="312.3" x2="118.5" y2="326.7" stroke="#a6a6a6" stroke-width="1.4"/>
<line x1="115.7" y1="312.5" x2="121.3" y2="312.5" stroke="#a6a6a6" stroke-width="1.4"/>
<line x1="115.7" y1="326.5" x2="121.3" y2="326.5" stroke="#a6a6a6" stroke-width="1.4"/>
<line x1="142.5" y1="347.7" x2="142.5" y2="351.6" stroke="#a6a6a6" stroke-width="1.4"/>
<line x1="139.6" y1="347.5" x2="145.2" y2="347.5" stroke="#a6a6a6" stroke-width="1.4"/>
<line x1="139.6" y1="351.5" x2="145.2" y2="351.5" stroke="#a6a6a6" stroke-width="1.4"/>
<line x1="118.0" y1="301.5" x2="144.0" y2="301.5" stroke="#333" stroke-width="1"/>
<text x="132.0" y="300.0" font-size="14" text-anchor="middle" textLength="19.0" lengthAdjust="spacingAndGlyphs">***</text>
<text transform="translate(31 332.8) rotate(-90)" x="0" y="0" font-size="8.5" text-anchor="middle" textLength="114.5" lengthAdjust="spacingAndGlyphs">Relative Sirtuin-4 mRNA levels</text>
<text x="7.0" y="400.0" font-size="8.5" textLength="45.8" lengthAdjust="spacingAndGlyphs">HA-SLC52A1</text>
<text x="70.4" y="401.40" font-size="10.5" font-weight="bold" text-anchor="middle" style="stroke:#111;stroke-width:.25px">–</text>
<text x="94.7" y="403.1" font-size="17" text-anchor="middle" style="fill:#222;stroke:#fff;stroke-width:.42px">+</text>
<text x="119.8" y="401.40" font-size="10.5" font-weight="bold" text-anchor="middle" style="stroke:#111;stroke-width:.25px">–</text>
<text x="143.2" y="403.1" font-size="17" text-anchor="middle" style="fill:#222;stroke:#fff;stroke-width:.42px">+</text>
<line x1="62.0" y1="407.5" x2="102.5" y2="407.5" stroke="#333" stroke-width="0.9"/>
<line x1="110.6" y1="407.5" x2="150.8" y2="407.5" stroke="#333" stroke-width="0.9"/>
<text x="7.0" y="420.0" font-size="8.5" textLength="37.5" lengthAdjust="spacingAndGlyphs">etoposide</text>
<text x="83.7" y="420.20" font-size="10.5" font-weight="bold" text-anchor="middle" style="stroke:#111;stroke-width:.25px">–</text>
<text x="132.0" y="420.9" font-size="17" text-anchor="middle" style="fill:#222;stroke:#fff;stroke-width:.42px">+</text>
<line x1="62.0" y1="426.5" x2="152.0" y2="426.5" stroke="#333" stroke-width="0.9"/>
<text x="7.0" y="441.0" font-size="8.5" textLength="37.0" lengthAdjust="spacingAndGlyphs">ORY-1001</text>
<text x="106.0" y="442.00" font-size="10.5" font-weight="bold" text-anchor="middle" style="stroke:#111;stroke-width:.25px">–</text>
<rect x="234.8" y="336.3" width="15.7" height="49.8" fill="#000"/>
<rect x="260.0" y="336.8" width="15.6" height="49.3" fill="#000"/>
<rect x="284.8" y="315.9" width="15.9" height="70.2" fill="#000"/>
<rect x="309.4" y="312.9" width="15.9" height="73.2" fill="#000"/>
<line x1="230.5" y1="286.1" x2="230.5" y2="386.5" stroke="#262626" stroke-width="0.9"/>
<line x1="227.4" y1="386.5" x2="330.0" y2="386.5" stroke="#262626" stroke-width="0.9"/>
<line x1="227.4" y1="386.5" x2="230.4" y2="386.5" stroke="#262626" stroke-width="0.9"/>
<text x="221.5" y="389.0" font-size="8.2" text-anchor="end" fill="#222">0</text>
<line x1="227.4" y1="361.5" x2="230.4" y2="361.5" stroke="#262626" stroke-width="0.9"/>
<text x="221.5" y="364.0" font-size="8.2" text-anchor="end" fill="#222">0.5</text>
<line x1="227.4" y1="336.5" x2="230.4" y2="336.5" stroke="#262626" stroke-width="0.9"/>
<text x="221.5" y="339.0" font-size="8.2" text-anchor="end" fill="#222">1</text>
<line x1="227.4" y1="311.5" x2="230.4" y2="311.5" stroke="#262626" stroke-width="0.9"/>
<text x="221.5" y="314.0" font-size="8.2" text-anchor="end" fill="#222">1.5</text>
<line x1="227.4" y1="286.5" x2="230.4" y2="286.5" stroke="#262626" stroke-width="0.9"/>
<text x="221.5" y="289.0" font-size="8.2" text-anchor="end" fill="#222">2</text>
<line x1="242.5" y1="330.8" x2="242.5" y2="341.8" stroke="#a6a6a6" stroke-width="1.4"/>
<line x1="239.8" y1="330.5" x2="245.5" y2="330.5" stroke="#a6a6a6" stroke-width="1.4"/>
<line x1="239.8" y1="341.5" x2="245.5" y2="341.5" stroke="#a6a6a6" stroke-width="1.4"/>
<line x1="267.5" y1="332.8" x2="267.5" y2="340.8" stroke="#a6a6a6" stroke-width="1.4"/>
<line x1="265.0" y1="332.5" x2="270.6" y2="332.5" stroke="#a6a6a6" stroke-width="1.4"/>
<line x1="265.0" y1="340.5" x2="270.6" y2="340.5" stroke="#a6a6a6" stroke-width="1.4"/>
<line x1="292.5" y1="313.6" x2="292.5" y2="318.1" stroke="#a6a6a6" stroke-width="1.4"/>
<line x1="289.9" y1="313.5" x2="295.6" y2="313.5" stroke="#a6a6a6" stroke-width="1.4"/>
<line x1="289.9" y1="318.5" x2="295.6" y2="318.5" stroke="#a6a6a6" stroke-width="1.4"/>
<line x1="317.5" y1="299.9" x2="317.5" y2="326.1" stroke="#a6a6a6" stroke-width="1.4"/>
<line x1="314.6" y1="299.5" x2="320.2" y2="299.5" stroke="#a6a6a6" stroke-width="1.4"/>
<line x1="314.6" y1="326.5" x2="320.2" y2="326.5" stroke="#a6a6a6" stroke-width="1.4"/>
<line x1="292.4" y1="287.5" x2="316.2" y2="287.5" stroke="#333" stroke-width="1"/>
<text x="304.4" y="283.0" font-size="8.5" text-anchor="middle" textLength="12.5" lengthAdjust="spacingAndGlyphs">n.s.</text>
<text transform="translate(203 332.8) rotate(-90)" x="0" y="0" font-size="8.5" text-anchor="middle" textLength="114.5" lengthAdjust="spacingAndGlyphs">Relative Sirtuin-4 mRNA levels</text>
<text x="178.8" y="399.0" font-size="8.5" textLength="46.3" lengthAdjust="spacingAndGlyphs">HA-SLC52A1</text>
<text x="242.1" y="400.80" font-size="10.5" font-weight="bold" text-anchor="middle" style="stroke:#111;stroke-width:.25px">–</text>
<text x="266.7" y="402.5" font-size="17" text-anchor="middle" style="fill:#222;stroke:#fff;stroke-width:.42px">+</text>
<text x="291.4" y="400.80" font-size="10.5" font-weight="bold" text-anchor="middle" style="stroke:#111;stroke-width:.25px">–</text>
<text x="315.2" y="402.5" font-size="17" text-anchor="middle" style="fill:#222;stroke:#fff;stroke-width:.42px">+</text>
<line x1="233.3" y1="407.5" x2="273.8" y2="407.5" stroke="#333" stroke-width="0.9"/>
<line x1="281.8" y1="407.5" x2="322.0" y2="407.5" stroke="#333" stroke-width="0.9"/>
<text x="178.8" y="420.0" font-size="8.5" textLength="37.5" lengthAdjust="spacingAndGlyphs">etoposide</text>
<text x="254.7" y="420.60" font-size="10.5" font-weight="bold" text-anchor="middle" style="stroke:#111;stroke-width:.25px">–</text>
<text x="304.0" y="421.1" font-size="17" text-anchor="middle" style="fill:#222;stroke:#fff;stroke-width:.42px">+</text>
<line x1="234.8" y1="427.5" x2="323.3" y2="427.5" stroke="#a0a0a0" stroke-width="1.5"/>
<text x="178.8" y="442.0" font-size="8.5" textLength="37.0" lengthAdjust="spacingAndGlyphs">ORY-1001</text>
<text x="278.5" y="442.9" font-size="17" text-anchor="middle" style="fill:#222;stroke:#fff;stroke-width:.42px">+</text>
<text x="351.8" y="288.0" font-size="14">e</text>
<rect x="416.6" y="375.3" width="15.1" height="10.0" fill="#000"/>
<rect x="440.0" y="364.4" width="15.0" height="20.9" fill="#000"/>
<rect x="463.6" y="295.6" width="14.6" height="89.7" fill="#000"/>
<rect x="486.5" y="327.5" width="14.8" height="57.8" fill="#000"/>
<line x1="412.5" y1="285.2" x2="412.5" y2="385.7" stroke="#262626" stroke-width="0.9"/>
<line x1="409.1" y1="385.5" x2="505.8" y2="385.5" stroke="#262626" stroke-width="0.9"/>
<line x1="409.1" y1="385.5" x2="412.1" y2="385.5" stroke="#262626" stroke-width="0.9"/>
<text x="404.0" y="388.0" font-size="8.2" text-anchor="end" fill="#222">0</text>
<line x1="409.1" y1="365.5" x2="412.1" y2="365.5" stroke="#262626" stroke-width="0.9"/>
<text x="404.0" y="368.0" font-size="8.2" text-anchor="end" fill="#222">2</text>
<line x1="409.1" y1="345.5" x2="412.1" y2="345.5" stroke="#262626" stroke-width="0.9"/>
<text x="404.0" y="348.0" font-size="8.2" text-anchor="end" fill="#222">4</text>
<line x1="409.1" y1="325.5" x2="412.1" y2="325.5" stroke="#262626" stroke-width="0.9"/>
<text x="404.0" y="328.0" font-size="8.2" text-anchor="end" fill="#222">6</text>
<line x1="409.1" y1="305.5" x2="412.1" y2="305.5" stroke="#262626" stroke-width="0.9"/>
<text x="404.0" y="308.0" font-size="8.2" text-anchor="end" fill="#222">8</text>
<line x1="409.1" y1="285.5" x2="412.1" y2="285.5" stroke="#262626" stroke-width="0.9"/>
<text x="404.0" y="288.0" font-size="8.2" text-anchor="end" fill="#222">10</text>
<line x1="424.5" y1="374.3" x2="424.5" y2="376.3" stroke="#a6a6a6" stroke-width="1.4"/>
<line x1="421.3" y1="374.5" x2="426.9" y2="374.5" stroke="#a6a6a6" stroke-width="1.4"/>
<line x1="421.3" y1="376.5" x2="426.9" y2="376.5" stroke="#a6a6a6" stroke-width="1.4"/>
<line x1="447.5" y1="362.9" x2="447.5" y2="365.9" stroke="#a6a6a6" stroke-width="1.4"/>
<line x1="444.7" y1="362.5" x2="450.3" y2="362.5" stroke="#a6a6a6" stroke-width="1.4"/>
<line x1="444.7" y1="365.5" x2="450.3" y2="365.5" stroke="#a6a6a6" stroke-width="1.4"/>
<line x1="470.5" y1="293.1" x2="470.5" y2="298.1" stroke="#a6a6a6" stroke-width="1.4"/>
<line x1="468.1" y1="293.5" x2="473.7" y2="293.5" stroke="#a6a6a6" stroke-width="1.4"/>
<line x1="468.1" y1="298.5" x2="473.7" y2="298.5" stroke="#a6a6a6" stroke-width="1.4"/>
<line x1="493.5" y1="324.0" x2="493.5" y2="331.0" stroke="#a6a6a6" stroke-width="1.4"/>
<line x1="491.1" y1="323.5" x2="496.7" y2="323.5" stroke="#a6a6a6" stroke-width="1.4"/>
<line x1="491.1" y1="330.5" x2="496.7" y2="330.5" stroke="#a6a6a6" stroke-width="1.4"/>
<line x1="468.0" y1="275.5" x2="493.3" y2="275.5" stroke="#a0a0a0" stroke-width="1.5"/>
<text x="482.0" y="274.0" font-size="14" text-anchor="middle" textLength="19.0" lengthAdjust="spacingAndGlyphs">***</text>
<text transform="translate(385 331.7) rotate(-90)" x="0" y="0" font-size="8.5" text-anchor="middle" textLength="96.5" lengthAdjust="spacingAndGlyphs">Relative p21 mRNA levels</text>
<text x="360.1" y="399.0" font-size="8.5" textLength="46.3" lengthAdjust="spacingAndGlyphs">HA-SLC52A1</text>
<text x="424.2" y="400.20" font-size="10.5" font-weight="bold" text-anchor="middle" style="stroke:#111;stroke-width:.25px">–</text>
<text x="448.0" y="401.9" font-size="17" text-anchor="middle" style="fill:#222;stroke:#fff;stroke-width:.42px">+</text>
<text x="473.2" y="400.20" font-size="10.5" font-weight="bold" text-anchor="middle" style="stroke:#111;stroke-width:.25px">–</text>
<text x="496.5" y="401.9" font-size="17" text-anchor="middle" style="fill:#222;stroke:#fff;stroke-width:.42px">+</text>
<line x1="415.4" y1="406.5" x2="455.0" y2="406.5" stroke="#a0a0a0" stroke-width="1.5"/>
<line x1="463.0" y1="406.5" x2="503.8" y2="406.5" stroke="#a0a0a0" stroke-width="1.5"/>
<text x="360.1" y="419.0" font-size="8.5" textLength="37.5" lengthAdjust="spacingAndGlyphs">etoposide</text>
<text x="436.7" y="419.40" font-size="10.5" font-weight="bold" text-anchor="middle" style="stroke:#111;stroke-width:.25px">–</text>
<text x="485.0" y="419.5" font-size="17" text-anchor="middle" style="fill:#222;stroke:#fff;stroke-width:.42px">+</text>
<line x1="415.4" y1="425.5" x2="504.6" y2="425.5" stroke="#333" stroke-width="0.9"/>
<text x="360.1" y="441.0" font-size="8.5" textLength="37.0" lengthAdjust="spacingAndGlyphs">ORY-1001</text>
<text x="459.3" y="440.30" font-size="10.5" font-weight="bold" text-anchor="middle" style="stroke:#111;stroke-width:.25px">–</text>
<rect x="589.1" y="374.0" width="16.1" height="9.5" fill="#000"/>
<rect x="614.0" y="373.5" width="15.8" height="10.0" fill="#000"/>
<rect x="639.1" y="300.5" width="15.9" height="83.0" fill="#000"/>
<rect x="663.8" y="311.5" width="16.2" height="72.0" fill="#000"/>
<line x1="584.5" y1="283.1" x2="584.5" y2="383.9" stroke="#262626" stroke-width="0.9"/>
<line x1="581.5" y1="383.5" x2="685.0" y2="383.5" stroke="#262626" stroke-width="0.9"/>
<line x1="581.5" y1="383.5" x2="584.5" y2="383.5" stroke="#262626" stroke-width="0.9"/>
<text x="576.4" y="386.0" font-size="8.2" text-anchor="end" fill="#222">0</text>
<line x1="581.5" y1="363.5" x2="584.5" y2="363.5" stroke="#262626" stroke-width="0.9"/>
<text x="576.4" y="366.0" font-size="8.2" text-anchor="end" fill="#222">2</text>
<line x1="581.5" y1="343.5" x2="584.5" y2="343.5" stroke="#262626" stroke-width="0.9"/>
<text x="576.4" y="346.0" font-size="8.2" text-anchor="end" fill="#222">4</text>
<line x1="581.5" y1="323.5" x2="584.5" y2="323.5" stroke="#262626" stroke-width="0.9"/>
<text x="576.4" y="326.0" font-size="8.2" text-anchor="end" fill="#222">6</text>
<line x1="581.5" y1="303.5" x2="584.5" y2="303.5" stroke="#262626" stroke-width="0.9"/>
<text x="576.4" y="306.0" font-size="8.2" text-anchor="end" fill="#222">8</text>
<line x1="581.5" y1="283.5" x2="584.5" y2="283.5" stroke="#262626" stroke-width="0.9"/>
<text x="576.4" y="286.0" font-size="8.2" text-anchor="end" fill="#222">10</text>
<line x1="597.5" y1="372.0" x2="597.5" y2="376.0" stroke="#a6a6a6" stroke-width="1.4"/>
<line x1="594.4" y1="372.5" x2="600.0" y2="372.5" stroke="#a6a6a6" stroke-width="1.4"/>
<line x1="594.4" y1="376.5" x2="600.0" y2="376.5" stroke="#a6a6a6" stroke-width="1.4"/>
<line x1="621.5" y1="373.0" x2="621.5" y2="374.0" stroke="#a6a6a6" stroke-width="1.4"/>
<line x1="619.1" y1="373.5" x2="624.7" y2="373.5" stroke="#a6a6a6" stroke-width="1.4"/>
<line x1="619.1" y1="374.5" x2="624.7" y2="374.5" stroke="#a6a6a6" stroke-width="1.4"/>
<line x1="647.5" y1="289.8" x2="647.5" y2="311.2" stroke="#a6a6a6" stroke-width="1.4"/>
<line x1="644.2" y1="289.5" x2="649.8" y2="289.5" stroke="#a6a6a6" stroke-width="1.4"/>
<line x1="644.2" y1="311.5" x2="649.8" y2="311.5" stroke="#a6a6a6" stroke-width="1.4"/>
<line x1="671.5" y1="293.3" x2="671.5" y2="329.0" stroke="#a6a6a6" stroke-width="1.4"/>
<line x1="669.1" y1="293.5" x2="674.7" y2="293.5" stroke="#a6a6a6" stroke-width="1.4"/>
<line x1="669.1" y1="329.5" x2="674.7" y2="329.5" stroke="#a6a6a6" stroke-width="1.4"/>
<line x1="645.7" y1="277.5" x2="671.3" y2="277.5" stroke="#333" stroke-width="1"/>
<text x="658.7" y="272.0" font-size="8.5" text-anchor="middle" textLength="12.5" lengthAdjust="spacingAndGlyphs">n.s.</text>
<text transform="translate(558 330.2) rotate(-90)" x="0" y="0" font-size="8.5" text-anchor="middle" textLength="96.5" lengthAdjust="spacingAndGlyphs">Relative p21 mRNA levels</text>
<text x="533.1" y="398.0" font-size="8.5" textLength="46.3" lengthAdjust="spacingAndGlyphs">HA-SLC52A1</text>
<text x="596.7" y="398.50" font-size="10.5" font-weight="bold" text-anchor="middle" style="stroke:#111;stroke-width:.25px">–</text>
<text x="621.0" y="400.2" font-size="17" text-anchor="middle" style="fill:#222;stroke:#fff;stroke-width:.42px">+</text>
<text x="646.2" y="398.50" font-size="10.5" font-weight="bold" text-anchor="middle" style="stroke:#111;stroke-width:.25px">–</text>
<text x="669.5" y="400.2" font-size="17" text-anchor="middle" style="fill:#222;stroke:#fff;stroke-width:.42px">+</text>
<line x1="588.4" y1="405.5" x2="628.0" y2="405.5" stroke="#a0a0a0" stroke-width="1.5"/>
<line x1="636.1" y1="405.5" x2="676.8" y2="405.5" stroke="#a0a0a0" stroke-width="1.5"/>
<text x="533.1" y="418.0" font-size="8.5" textLength="37.5" lengthAdjust="spacingAndGlyphs">etoposide</text>
<text x="609.7" y="417.40" font-size="10.5" font-weight="bold" text-anchor="middle" style="stroke:#111;stroke-width:.25px">–</text>
<text x="657.5" y="418.3" font-size="17" text-anchor="middle" style="fill:#222;stroke:#fff;stroke-width:.42px">+</text>
<line x1="588.4" y1="425.5" x2="677.6" y2="425.5" stroke="#a0a0a0" stroke-width="1.5"/>
<text x="533.1" y="440.0" font-size="8.5" textLength="37.0" lengthAdjust="spacingAndGlyphs">ORY-1001</text>
<text x="633.6" y="440.3" font-size="17" text-anchor="middle" style="fill:#222;stroke:#fff;stroke-width:.42px">+</text>
<text x="17.3" y="467.0" font-size="14" font-weight="bold">f</text>
<text x="29.6" y="493.0" font-size="8.5" textLength="36.5" lengthAdjust="spacingAndGlyphs">ORY-1001</text>
<text x="133.5" y="492.60" font-size="10.5" font-weight="bold" text-anchor="middle" style="stroke:#111;stroke-width:.25px">–</text>
<text x="233.5" y="494.1" font-size="17" text-anchor="middle" style="fill:#222;stroke:#fff;stroke-width:.42px">+</text>
<line x1="89.0" y1="503.5" x2="177.5" y2="503.5" stroke="#333" stroke-width="0.9"/>
<line x1="189.0" y1="503.5" x2="277.5" y2="503.5" stroke="#333" stroke-width="0.9"/>
<text x="29.6" y="520.0" font-size="8.5" textLength="37.5" lengthAdjust="spacingAndGlyphs">etoposide</text>
<text x="108.5" y="519.60" font-size="10.5" font-weight="bold" text-anchor="middle" style="stroke:#111;stroke-width:.25px">–</text>
<text x="156.5" y="521.3" font-size="17" text-anchor="middle" style="fill:#222;stroke:#fff;stroke-width:.42px">+</text>
<text x="209.0" y="519.60" font-size="10.5" font-weight="bold" text-anchor="middle" style="stroke:#111;stroke-width:.25px">–</text>
<text x="257.5" y="521.3" font-size="17" text-anchor="middle" style="fill:#222;stroke:#fff;stroke-width:.42px">+</text>
<line x1="89.0" y1="529.5" x2="129.0" y2="529.5" stroke="#333" stroke-width="0.9"/>
<line x1="137.5" y1="529.5" x2="177.5" y2="529.5" stroke="#333" stroke-width="0.9"/>
<line x1="189.0" y1="529.5" x2="229.0" y2="529.5" stroke="#333" stroke-width="0.9"/>
<line x1="237.5" y1="529.5" x2="277.5" y2="529.5" stroke="#333" stroke-width="0.9"/>
<text x="30.0" y="544.0" font-size="8.5" textLength="45.7" lengthAdjust="spacingAndGlyphs">HA-SLC52A1</text>
<text x="97.5" y="544.60" font-size="10.5" font-weight="bold" text-anchor="middle" style="stroke:#111;stroke-width:.25px">–</text>
<text x="121.5" y="546.3" font-size="17" text-anchor="middle" style="fill:#222;stroke:#fff;stroke-width:.42px">+</text>
<text x="146.5" y="544.60" font-size="10.5" font-weight="bold" text-anchor="middle" style="stroke:#111;stroke-width:.25px">–</text>
<text x="170.0" y="546.3" font-size="17" text-anchor="middle" style="fill:#222;stroke:#fff;stroke-width:.42px">+</text>
<text x="197.5" y="544.60" font-size="10.5" font-weight="bold" text-anchor="middle" style="stroke:#111;stroke-width:.25px">–</text>
<text x="222.5" y="546.3" font-size="17" text-anchor="middle" style="fill:#222;stroke:#fff;stroke-width:.42px">+</text>
<text x="246.5" y="544.60" font-size="10.5" font-weight="bold" text-anchor="middle" style="stroke:#111;stroke-width:.25px">–</text>
<text x="271.0" y="546.3" font-size="17" text-anchor="middle" style="fill:#222;stroke:#fff;stroke-width:.42px">+</text>
<text x="291.5" y="546.0" font-size="8.5" textLength="20.5" lengthAdjust="spacingAndGlyphs">(kDa)</text>
<text x="29.6" y="565.0" font-size="8.5" textLength="32.8" lengthAdjust="spacingAndGlyphs">Sirtuin-4</text>
<clipPath id="c15"><rect x="83.2" y="555.0" width="96.5" height="13.2"/></clipPath>
<g clip-path="url(#c15)">
<rect x="83.2" y="555.0" width="96.5" height="13.2" fill="#e3e3e3"/>
<g filter="url(#b1)">
<rect x="85.2" y="558.5" width="18.0" height="5.0" rx="2.5" fill="#dadada"/>
<rect x="114.5" y="559.8" width="10.0" height="1.2" rx="0.6" fill="#b4b4b4"/>
<rect x="110.5" y="559.0" width="18.0" height="4.0" rx="2.0" fill="#d6d6d6"/>
<rect x="132.8" y="557.9" width="21.0" height="5.0" rx="2.5" fill="#c4c4c4"/>
<rect x="159.7" y="558.6" width="18.0" height="4.0" rx="2.0" fill="#d2d2d2"/>
</g></g>
<rect x="83.2" y="555.0" width="96.5" height="13.2" fill="none" stroke="#111" stroke-width="1.3"/>
<clipPath id="c16"><rect x="183.5" y="555.4" width="96.3" height="11.2"/></clipPath>
<g clip-path="url(#c16)">
<rect x="183.5" y="555.4" width="96.3" height="11.2" fill="#c3c3c3"/>
<g filter="url(#b1)">
<rect x="185.3" y="558.8" width="21.0" height="2.4" rx="1.2" fill="#6c6c6c"/>
<rect x="210.8" y="559.0" width="20.0" height="2.4" rx="1.2" fill="#747474"/>
<rect x="235.7" y="559.0" width="20.0" height="2.4" rx="1.2" fill="#666"/>
<rect x="259.5" y="559.3" width="21.0" height="2.2" rx="1.1" fill="#727272"/>
<rect x="185.3" y="561.7" width="21.0" height="2.6" rx="1.3" fill="#a4a4a4"/>
<rect x="210.8" y="561.7" width="20.0" height="2.6" rx="1.3" fill="#a6a6a6"/>
<rect x="235.7" y="561.7" width="20.0" height="2.6" rx="1.3" fill="#a2a2a2"/>
<rect x="259.5" y="561.9" width="21.0" height="2.6" rx="1.3" fill="#a6a6a6"/>
</g></g>
<rect x="183.5" y="555.4" width="96.3" height="11.2" fill="none" stroke="#111" stroke-width="1.3"/>
<line x1="279.8" y1="556.5" x2="285.5" y2="556.5" stroke="#111" stroke-width="1.2"/>
<text x="294.8" y="560.0" font-size="8.6" textLength="8.5" lengthAdjust="spacingAndGlyphs" fill="#222">35</text>
<text x="94.2" y="580.0" font-size="8.6" text-anchor="middle" textLength="11.2" lengthAdjust="spacingAndGlyphs" fill="#222">1.0</text>
<text x="119.5" y="580.0" font-size="8.6" text-anchor="middle" textLength="11.2" lengthAdjust="spacingAndGlyphs" fill="#222">1.0</text>
<text x="143.3" y="580.0" font-size="8.6" text-anchor="middle" textLength="11.2" lengthAdjust="spacingAndGlyphs" fill="#222">2.0</text>
<text x="168.7" y="580.0" font-size="8.6" text-anchor="middle" textLength="11.2" lengthAdjust="spacingAndGlyphs" fill="#222">0.6</text>
<text x="195.8" y="580.0" font-size="8.6" text-anchor="middle" textLength="11.2" lengthAdjust="spacingAndGlyphs" fill="#222">1.0</text>
<text x="220.8" y="580.0" font-size="8.6" text-anchor="middle" textLength="11.2" lengthAdjust="spacingAndGlyphs" fill="#222">0.8</text>
<text x="245.7" y="580.0" font-size="8.6" text-anchor="middle" textLength="11.2" lengthAdjust="spacingAndGlyphs" fill="#222">1.2</text>
<text x="270.0" y="580.0" font-size="8.6" text-anchor="middle" textLength="11.2" lengthAdjust="spacingAndGlyphs" fill="#222">1.0</text>
<text x="29.6" y="596.0" font-size="8.5" textLength="13.4" lengthAdjust="spacingAndGlyphs">p21</text>
<clipPath id="c17"><rect x="83.2" y="584.8" width="96.5" height="17.8"/></clipPath>
<g clip-path="url(#c17)">
<rect x="83.2" y="584.8" width="96.5" height="17.8" fill="#e0e0e0"/>
<g filter="url(#b1)">
<rect x="85.2" y="593.3" width="18.0" height="1.8" rx="0.9" fill="#cbcbcb"/>
<rect x="110.5" y="593.3" width="18.0" height="1.8" rx="0.9" fill="#c6c6c6"/>
<rect x="134.3" y="592.1" width="18.0" height="2.2" rx="1.1" fill="#b0b0b0"/>
<rect x="159.7" y="591.9" width="18.0" height="2.2" rx="1.1" fill="#b0b0b0"/>
</g></g>
<rect x="83.2" y="584.8" width="96.5" height="17.8" fill="none" stroke="#111" stroke-width="1.3"/>
<clipPath id="c18"><rect x="183.5" y="585.6" width="96.3" height="15.0"/></clipPath>
<g clip-path="url(#c18)">
<rect x="183.5" y="585.6" width="96.3" height="15.0" fill="#dcdcdc"/>
<g filter="url(#b1)">
<rect x="189.8" y="591.6" width="12.0" height="1.6" rx="0.8" fill="#d0d0d0"/>
<rect x="213.8" y="591.3" width="14.0" height="1.8" rx="0.9" fill="#bcbcbc"/>
<rect x="236.7" y="591.8" width="18.0" height="2.0" rx="1.0" fill="#ababab"/>
<rect x="260.0" y="591.7" width="20.0" height="2.2" rx="1.1" fill="#a2a2a2"/>
</g></g>
<rect x="183.5" y="585.6" width="96.3" height="15.0" fill="none" stroke="#111" stroke-width="1.3"/>
<line x1="279.8" y1="587.5" x2="285.5" y2="587.5" stroke="#111" stroke-width="1.2"/>
<text x="294.8" y="591.0" font-size="8.6" textLength="8.5" lengthAdjust="spacingAndGlyphs" fill="#222">20</text>
<text x="94.2" y="613.0" font-size="8.6" text-anchor="middle" textLength="11.2" lengthAdjust="spacingAndGlyphs" fill="#222">1.0</text>
<text x="119.5" y="613.0" font-size="8.6" text-anchor="middle" textLength="11.2" lengthAdjust="spacingAndGlyphs" fill="#222">0.7</text>
<text x="143.3" y="613.0" font-size="8.6" text-anchor="middle" textLength="11.2" lengthAdjust="spacingAndGlyphs" fill="#222">1.4</text>
<text x="168.7" y="613.0" font-size="8.6" text-anchor="middle" textLength="11.2" lengthAdjust="spacingAndGlyphs" fill="#222">1.2</text>
<text x="195.8" y="613.0" font-size="8.6" text-anchor="middle" textLength="11.2" lengthAdjust="spacingAndGlyphs" fill="#222">1.0</text>
<text x="220.8" y="613.0" font-size="8.6" text-anchor="middle" textLength="11.2" lengthAdjust="spacingAndGlyphs" fill="#222">2.3</text>
<text x="245.7" y="613.0" font-size="8.6" text-anchor="middle" textLength="11.2" lengthAdjust="spacingAndGlyphs" fill="#222">4.3</text>
<text x="270.0" y="613.0" font-size="8.6" text-anchor="middle" textLength="11.2" lengthAdjust="spacingAndGlyphs" fill="#222">4.9</text>
<text x="29.0" y="631.0" font-size="8.5" textLength="33.6" lengthAdjust="spacingAndGlyphs">γ-tubulin</text>
<clipPath id="c19"><rect x="83.2" y="618.4" width="96.5" height="18.1"/></clipPath>
<g clip-path="url(#c19)">
<rect x="83.2" y="618.4" width="96.5" height="18.1" fill="#e1e1e1"/>
<g filter="url(#b1)">
<rect x="83.7" y="626.3" width="21.0" height="2.6" rx="1.3" fill="#6c6c6c"/>
<rect x="108.5" y="626.0" width="22.0" height="2.8" rx="1.4" fill="#484848"/>
<rect x="133.3" y="624.5" width="20.0" height="3.0" rx="1.5" fill="#303030"/>
<rect x="158.2" y="623.9" width="21.0" height="3.0" rx="1.5" fill="#3a3a3a"/>
<rect x="84.2" y="628.5" width="20.0" height="3.0" rx="1.5" fill="#c8c8c8"/>
<rect x="109.0" y="628.5" width="21.0" height="3.0" rx="1.5" fill="#c4c4c4"/>
<rect x="133.3" y="627.3" width="20.0" height="3.4" rx="1.7" fill="#bcbcbc"/>
<rect x="158.7" y="626.9" width="20.0" height="3.4" rx="1.7" fill="#bebebe"/>
</g></g>
<rect x="83.2" y="618.4" width="96.5" height="18.1" fill="none" stroke="#111" stroke-width="1.3"/>
<clipPath id="c20"><rect x="183.5" y="618.4" width="96.3" height="15.0"/></clipPath>
<g clip-path="url(#c20)">
<rect x="183.5" y="618.4" width="96.3" height="15.0" fill="#f1f1f1"/>
<g filter="url(#b1)">
<rect x="185.3" y="623.3" width="21.0" height="2.6" rx="1.3" fill="#9c9c9c"/>
<rect x="210.8" y="624.3" width="20.0" height="2.6" rx="1.3" fill="#a0a0a0"/>
<rect x="235.7" y="624.7" width="20.0" height="2.6" rx="1.3" fill="#9a9a9a"/>
<rect x="260.0" y="624.9" width="20.0" height="2.6" rx="1.3" fill="#9e9e9e"/>
<rect x="185.8" y="626.0" width="20.0" height="2.0" rx="1.0" fill="#c4c4c4"/>
<rect x="211.3" y="627.0" width="19.0" height="2.0" rx="1.0" fill="#c6c6c6"/>
<rect x="236.2" y="627.4" width="19.0" height="2.0" rx="1.0" fill="#c2c2c2"/>
<rect x="260.5" y="627.6" width="19.0" height="2.0" rx="1.0" fill="#c4c4c4"/>
</g></g>
<rect x="183.5" y="618.4" width="96.3" height="15.0" fill="none" stroke="#111" stroke-width="1.3"/>
<line x1="279.8" y1="626.5" x2="285.5" y2="626.5" stroke="#111" stroke-width="1.2"/>
<text x="294.8" y="630.0" font-size="8.6" textLength="8.5" lengthAdjust="spacingAndGlyphs" fill="#222">45</text>
<text x="384.6" y="479.0" font-size="15">g</text>
<rect x="447.2" y="570.7" width="16.0" height="0.8" fill="#000"/>
<rect x="471.2" y="570.7" width="16.0" height="0.8" fill="#000"/>
<rect x="495.7" y="568.7" width="16.3" height="2.8" fill="#000"/>
<rect x="519.7" y="569.1" width="16.0" height="2.4" fill="#000"/>
<rect x="543.2" y="518.0" width="16.3" height="53.5" fill="#000"/>
<rect x="567.3" y="547.6" width="16.1" height="23.9" fill="#000"/>
<rect x="591.3" y="496.5" width="16.0" height="75.0" fill="#000"/>
<rect x="615.2" y="514.0" width="16.0" height="57.5" fill="#000"/>
<line x1="443.5" y1="469.8" x2="443.5" y2="571.9" stroke="#262626" stroke-width="0.9"/>
<line x1="440.9" y1="571.5" x2="635.0" y2="571.5" stroke="#262626" stroke-width="0.9"/>
<line x1="440.9" y1="571.5" x2="443.9" y2="571.5" stroke="#262626" stroke-width="0.9"/>
<text x="435.2" y="574.0" font-size="8.2" text-anchor="end" fill="#222">0</text>
<line x1="440.9" y1="551.5" x2="443.9" y2="551.5" stroke="#262626" stroke-width="0.9"/>
<text x="435.2" y="554.0" font-size="8.2" text-anchor="end" fill="#222">5</text>
<line x1="440.9" y1="530.5" x2="443.9" y2="530.5" stroke="#262626" stroke-width="0.9"/>
<text x="435.2" y="534.0" font-size="8.2" text-anchor="end" fill="#222">10</text>
<line x1="440.9" y1="510.5" x2="443.9" y2="510.5" stroke="#262626" stroke-width="0.9"/>
<text x="435.2" y="513.0" font-size="8.2" text-anchor="end" fill="#222">15</text>
<line x1="440.9" y1="490.5" x2="443.9" y2="490.5" stroke="#262626" stroke-width="0.9"/>
<text x="435.2" y="493.0" font-size="8.2" text-anchor="end" fill="#222">20</text>
<line x1="440.9" y1="470.5" x2="443.9" y2="470.5" stroke="#262626" stroke-width="0.9"/>
<text x="435.2" y="473.0" font-size="8.2" text-anchor="end" fill="#222">25</text>
<line x1="503.5" y1="566.6" x2="503.5" y2="570.7" stroke="#a6a6a6" stroke-width="1.4"/>
<line x1="501.1" y1="566.5" x2="506.7" y2="566.5" stroke="#a6a6a6" stroke-width="1.4"/>
<line x1="501.1" y1="570.5" x2="506.7" y2="570.5" stroke="#a6a6a6" stroke-width="1.4"/>
<line x1="527.5" y1="567.4" x2="527.5" y2="570.7" stroke="#a6a6a6" stroke-width="1.4"/>
<line x1="524.9" y1="567.5" x2="530.5" y2="567.5" stroke="#a6a6a6" stroke-width="1.4"/>
<line x1="524.9" y1="570.5" x2="530.5" y2="570.5" stroke="#a6a6a6" stroke-width="1.4"/>
<line x1="551.5" y1="510.3" x2="551.5" y2="525.7" stroke="#a6a6a6" stroke-width="1.4"/>
<line x1="548.6" y1="510.5" x2="554.1" y2="510.5" stroke="#a6a6a6" stroke-width="1.4"/>
<line x1="548.6" y1="525.5" x2="554.1" y2="525.5" stroke="#a6a6a6" stroke-width="1.4"/>
<line x1="575.5" y1="535.8" x2="575.5" y2="559.3" stroke="#a6a6a6" stroke-width="1.4"/>
<line x1="572.5" y1="535.5" x2="578.1" y2="535.5" stroke="#a6a6a6" stroke-width="1.4"/>
<line x1="572.5" y1="559.5" x2="578.1" y2="559.5" stroke="#a6a6a6" stroke-width="1.4"/>
<line x1="599.5" y1="485.6" x2="599.5" y2="507.1" stroke="#a6a6a6" stroke-width="1.4"/>
<line x1="596.5" y1="485.5" x2="602.1" y2="485.5" stroke="#a6a6a6" stroke-width="1.4"/>
<line x1="596.5" y1="507.5" x2="602.1" y2="507.5" stroke="#a6a6a6" stroke-width="1.4"/>
<line x1="623.5" y1="496.9" x2="623.5" y2="531.0" stroke="#a6a6a6" stroke-width="1.4"/>
<line x1="620.4" y1="496.5" x2="626.0" y2="496.5" stroke="#a6a6a6" stroke-width="1.4"/>
<line x1="620.4" y1="530.5" x2="626.0" y2="530.5" stroke="#a6a6a6" stroke-width="1.4"/>
<circle cx="451.0" cy="569.2" r="2.15" fill="#ffc000"/>
<circle cx="455.9" cy="570.7" r="2.15" fill="#ffc000"/>
<circle cx="460.0" cy="570.4" r="2.15" fill="#ffc000"/>
<circle cx="474.1" cy="570.0" r="2.15" fill="#ffc000"/>
<circle cx="478.7" cy="569.6" r="2.15" fill="#ffc000"/>
<circle cx="483.6" cy="571.1" r="2.15" fill="#ffc000"/>
<circle cx="498.4" cy="565.8" r="2.15" fill="#ffc000"/>
<circle cx="503.3" cy="568.9" r="2.15" fill="#ffc000"/>
<circle cx="508.3" cy="570.7" r="2.15" fill="#ffc000"/>
<circle cx="522.3" cy="566.6" r="2.15" fill="#ffc000"/>
<circle cx="527.2" cy="568.1" r="2.15" fill="#ffc000"/>
<circle cx="531.8" cy="571.1" r="2.15" fill="#ffc000"/>
<circle cx="545.8" cy="518.8" r="2.15" fill="#ffc000"/>
<circle cx="551.5" cy="508.9" r="2.15" fill="#ffc000"/>
<circle cx="555.7" cy="526.3" r="2.15" fill="#ffc000"/>
<circle cx="569.8" cy="557.5" r="2.15" fill="#ffc000"/>
<circle cx="574.7" cy="530.9" r="2.15" fill="#ffc000"/>
<circle cx="579.2" cy="552.9" r="2.15" fill="#ffc000"/>
<circle cx="593.7" cy="492.2" r="2.15" fill="#ffc000"/>
<circle cx="599.0" cy="486.1" r="2.15" fill="#ffc000"/>
<circle cx="603.1" cy="510.0" r="2.15" fill="#ffc000"/>
<circle cx="618.0" cy="532.0" r="2.15" fill="#ffc000"/>
<circle cx="622.1" cy="491.0" r="2.15" fill="#ffc000"/>
<circle cx="626.7" cy="517.6" r="2.15" fill="#ffc000"/>
<line x1="549.6" y1="496.5" x2="574.7" y2="496.5" stroke="#333" stroke-width="1"/>
<text x="562.7" y="495.0" font-size="14" text-anchor="middle">*</text>
<line x1="597.2" y1="472.5" x2="623.1" y2="472.5" stroke="#a0a0a0" stroke-width="1.5"/>
<text x="610.7" y="467.0" font-size="8.5" text-anchor="middle" textLength="12.5" lengthAdjust="spacingAndGlyphs">n.s.</text>
<text transform="translate(417 520.0) rotate(-90)" x="0" y="0" font-size="8.5" text-anchor="middle" textLength="78.5" lengthAdjust="spacingAndGlyphs">SA-β-gal (+) cells (%)</text>
<text x="391.4" y="586.0" font-size="8.5" textLength="46.3" lengthAdjust="spacingAndGlyphs">HA-SLC52A1</text>
<text x="454.8" y="586.90" font-size="10.5" font-weight="bold" text-anchor="middle" style="stroke:#111;stroke-width:.25px">–</text>
<text x="479.8" y="588.6" font-size="17" text-anchor="middle" style="fill:#222;stroke:#fff;stroke-width:.42px">+</text>
<text x="504.1" y="586.90" font-size="10.5" font-weight="bold" text-anchor="middle" style="stroke:#111;stroke-width:.25px">–</text>
<text x="528.0" y="588.6" font-size="17" text-anchor="middle" style="fill:#222;stroke:#fff;stroke-width:.42px">+</text>
<text x="550.6" y="586.90" font-size="10.5" font-weight="bold" text-anchor="middle" style="stroke:#111;stroke-width:.25px">–</text>
<text x="574.7" y="588.6" font-size="17" text-anchor="middle" style="fill:#222;stroke:#fff;stroke-width:.42px">+</text>
<text x="599.4" y="586.90" font-size="10.5" font-weight="bold" text-anchor="middle" style="stroke:#111;stroke-width:.25px">–</text>
<text x="623.3" y="588.6" font-size="17" text-anchor="middle" style="fill:#222;stroke:#fff;stroke-width:.42px">+</text>
<line x1="446.4" y1="593.5" x2="487.0" y2="593.5" stroke="#333" stroke-width="0.9"/>
<line x1="495.7" y1="593.5" x2="535.6" y2="593.5" stroke="#333" stroke-width="0.9"/>
<line x1="543.2" y1="594.5" x2="583.0" y2="594.5" stroke="#a0a0a0" stroke-width="1.5"/>
<line x1="590.6" y1="594.5" x2="631.2" y2="594.5" stroke="#a0a0a0" stroke-width="1.5"/>
<text x="391.4" y="606.0" font-size="8.5" textLength="36.3" lengthAdjust="spacingAndGlyphs">ORY-1001</text>
<text x="468.4" y="606.60" font-size="10.5" font-weight="bold" text-anchor="middle" style="stroke:#111;stroke-width:.25px">–</text>
<text x="515.9" y="608.3" font-size="17" text-anchor="middle" style="fill:#222;stroke:#fff;stroke-width:.42px">+</text>
<text x="563.3" y="606.60" font-size="10.5" font-weight="bold" text-anchor="middle" style="stroke:#111;stroke-width:.25px">–</text>
<text x="611.5" y="608.3" font-size="17" text-anchor="middle" style="fill:#222;stroke:#fff;stroke-width:.42px">+</text>
<line x1="446.4" y1="613.5" x2="535.6" y2="613.5" stroke="#a0a0a0" stroke-width="1.5"/>
<line x1="543.2" y1="613.5" x2="631.2" y2="613.5" stroke="#a0a0a0" stroke-width="1.5"/>
<text x="390.8" y="627.0" font-size="8.5" textLength="37.5" lengthAdjust="spacingAndGlyphs">etoposide</text>
<text x="491.2" y="626.80" font-size="10.5" font-weight="bold" text-anchor="middle" style="stroke:#111;stroke-width:.25px">–</text>
<text x="586.8" y="627.1" font-size="17" text-anchor="middle" style="fill:#222;stroke:#fff;stroke-width:.42px">+</text>
<text x="21.0" y="666.0" font-size="14.5">h</text>
<rect x="84.4" y="702.2" width="15.6" height="58.0" fill="#000"/>
<rect x="107.7" y="697.0" width="15.9" height="63.2" fill="#000"/>
<rect x="131.3" y="695.4" width="15.4" height="64.8" fill="#000"/>
<rect x="154.4" y="699.6" width="15.8" height="60.6" fill="#000"/>
<rect x="177.9" y="751.1" width="15.5" height="9.1" fill="#000"/>
<rect x="201.2" y="733.6" width="15.5" height="26.6" fill="#000"/>
<rect x="224.3" y="754.0" width="15.8" height="6.2" fill="#000"/>
<rect x="247.9" y="756.3" width="15.8" height="3.9" fill="#000"/>
<line x1="80.5" y1="662.6" x2="80.5" y2="760.6" stroke="#262626" stroke-width="0.9"/>
<line x1="77.4" y1="760.5" x2="267.3" y2="760.5" stroke="#262626" stroke-width="0.9"/>
<line x1="77.4" y1="760.5" x2="80.4" y2="760.5" stroke="#262626" stroke-width="0.9"/>
<text x="71.4" y="763.0" font-size="8.2" text-anchor="end" fill="#222">0</text>
<line x1="77.4" y1="744.5" x2="80.4" y2="744.5" stroke="#262626" stroke-width="0.9"/>
<text x="71.4" y="747.0" font-size="8.2" text-anchor="end" fill="#222">5</text>
<line x1="77.4" y1="727.5" x2="80.4" y2="727.5" stroke="#262626" stroke-width="0.9"/>
<text x="71.4" y="730.0" font-size="8.2" text-anchor="end" fill="#222">10</text>
<line x1="77.4" y1="711.5" x2="80.4" y2="711.5" stroke="#262626" stroke-width="0.9"/>
<text x="71.4" y="714.0" font-size="8.2" text-anchor="end" fill="#222">15</text>
<line x1="77.4" y1="695.5" x2="80.4" y2="695.5" stroke="#262626" stroke-width="0.9"/>
<text x="71.4" y="698.0" font-size="8.2" text-anchor="end" fill="#222">20</text>
<line x1="77.4" y1="679.5" x2="80.4" y2="679.5" stroke="#262626" stroke-width="0.9"/>
<text x="71.4" y="682.0" font-size="8.2" text-anchor="end" fill="#222">25</text>
<line x1="77.4" y1="663.5" x2="80.4" y2="663.5" stroke="#262626" stroke-width="0.9"/>
<text x="71.4" y="666.0" font-size="8.2" text-anchor="end" fill="#222">30</text>
<line x1="92.5" y1="693.3" x2="92.5" y2="710.2" stroke="#a6a6a6" stroke-width="1.4"/>
<line x1="89.3" y1="693.5" x2="94.9" y2="693.5" stroke="#a6a6a6" stroke-width="1.4"/>
<line x1="89.3" y1="710.5" x2="94.9" y2="710.5" stroke="#a6a6a6" stroke-width="1.4"/>
<line x1="115.5" y1="690.9" x2="115.5" y2="703.1" stroke="#a6a6a6" stroke-width="1.4"/>
<line x1="112.6" y1="690.5" x2="118.2" y2="690.5" stroke="#a6a6a6" stroke-width="1.4"/>
<line x1="112.6" y1="703.5" x2="118.2" y2="703.5" stroke="#a6a6a6" stroke-width="1.4"/>
<line x1="138.5" y1="678.3" x2="138.5" y2="711.7" stroke="#a6a6a6" stroke-width="1.4"/>
<line x1="135.9" y1="678.5" x2="141.5" y2="678.5" stroke="#a6a6a6" stroke-width="1.4"/>
<line x1="135.9" y1="711.5" x2="141.5" y2="711.5" stroke="#a6a6a6" stroke-width="1.4"/>
<line x1="162.5" y1="692.7" x2="162.5" y2="704.7" stroke="#a6a6a6" stroke-width="1.4"/>
<line x1="159.2" y1="692.5" x2="164.8" y2="692.5" stroke="#a6a6a6" stroke-width="1.4"/>
<line x1="159.2" y1="704.5" x2="164.8" y2="704.5" stroke="#a6a6a6" stroke-width="1.4"/>
<line x1="185.5" y1="746.4" x2="185.5" y2="754.6" stroke="#a6a6a6" stroke-width="1.4"/>
<line x1="182.2" y1="746.5" x2="187.8" y2="746.5" stroke="#a6a6a6" stroke-width="1.4"/>
<line x1="182.2" y1="754.5" x2="187.8" y2="754.5" stroke="#a6a6a6" stroke-width="1.4"/>
<line x1="208.5" y1="725.5" x2="208.5" y2="741.5" stroke="#a6a6a6" stroke-width="1.4"/>
<line x1="205.8" y1="725.5" x2="211.4" y2="725.5" stroke="#a6a6a6" stroke-width="1.4"/>
<line x1="205.8" y1="741.5" x2="211.4" y2="741.5" stroke="#a6a6a6" stroke-width="1.4"/>
<line x1="231.5" y1="750.6" x2="231.5" y2="757.7" stroke="#a6a6a6" stroke-width="1.4"/>
<line x1="229.1" y1="750.5" x2="234.7" y2="750.5" stroke="#a6a6a6" stroke-width="1.4"/>
<line x1="229.1" y1="757.5" x2="234.7" y2="757.5" stroke="#a6a6a6" stroke-width="1.4"/>
<line x1="255.5" y1="753.7" x2="255.5" y2="758.3" stroke="#a6a6a6" stroke-width="1.4"/>
<line x1="252.7" y1="753.5" x2="258.3" y2="753.5" stroke="#a6a6a6" stroke-width="1.4"/>
<line x1="252.7" y1="758.5" x2="258.3" y2="758.5" stroke="#a6a6a6" stroke-width="1.4"/>
<circle cx="87.5" cy="711.4" r="2.15" fill="#ffc000"/>
<circle cx="92.1" cy="690.9" r="2.15" fill="#ffc000"/>
<circle cx="96.7" cy="703.4" r="2.15" fill="#ffc000"/>
<circle cx="110.8" cy="703.1" r="2.15" fill="#ffc000"/>
<circle cx="115.4" cy="688.1" r="2.15" fill="#ffc000"/>
<circle cx="119.7" cy="698.8" r="2.15" fill="#ffc000"/>
<circle cx="134.1" cy="709.3" r="2.15" fill="#ffc000"/>
<circle cx="138.7" cy="671.2" r="2.15" fill="#ffc000"/>
<circle cx="143.3" cy="704.0" r="2.15" fill="#ffc000"/>
<circle cx="157.4" cy="690.3" r="2.15" fill="#ffc000"/>
<circle cx="162.0" cy="702.5" r="2.15" fill="#ffc000"/>
<circle cx="166.6" cy="704.0" r="2.15" fill="#ffc000"/>
<circle cx="180.4" cy="750.0" r="2.15" fill="#ffc000"/>
<circle cx="185.0" cy="746.4" r="2.15" fill="#ffc000"/>
<circle cx="189.6" cy="754.6" r="2.15" fill="#ffc000"/>
<circle cx="204.0" cy="741.5" r="2.15" fill="#ffc000"/>
<circle cx="208.6" cy="722.4" r="2.15" fill="#ffc000"/>
<circle cx="213.2" cy="736.5" r="2.15" fill="#ffc000"/>
<circle cx="227.3" cy="750.6" r="2.15" fill="#ffc000"/>
<circle cx="231.9" cy="753.7" r="2.15" fill="#ffc000"/>
<circle cx="236.5" cy="758.0" r="2.15" fill="#ffc000"/>
<circle cx="250.9" cy="757.1" r="2.15" fill="#ffc000"/>
<circle cx="255.5" cy="752.2" r="2.15" fill="#ffc000"/>
<circle cx="260.0" cy="758.3" r="2.15" fill="#ffc000"/>
<line x1="184.0" y1="711.5" x2="209.5" y2="711.5" stroke="#333" stroke-width="1"/>
<text x="197.5" y="710.0" font-size="14" text-anchor="middle">*</text>
<line x1="230.7" y1="739.5" x2="256.7" y2="739.5" stroke="#333" stroke-width="1"/>
<text x="243.8" y="734.0" font-size="8.5" text-anchor="middle" textLength="12.5" lengthAdjust="spacingAndGlyphs">n.s.</text>
<text transform="translate(53 711.3) rotate(-90)" x="0" y="0" font-size="8.5" text-anchor="middle" textLength="61.5" lengthAdjust="spacingAndGlyphs">EdU (+) cells (%)</text>
<text x="27.6" y="776.0" font-size="8.5" textLength="46.0" lengthAdjust="spacingAndGlyphs">HA-SLC52A1</text>
<text x="91.2" y="776.90" font-size="10.5" font-weight="bold" text-anchor="middle" style="stroke:#111;stroke-width:.25px">–</text>
<text x="116.1" y="778.6" font-size="17" text-anchor="middle" style="fill:#222;stroke:#fff;stroke-width:.42px">+</text>
<text x="140.2" y="776.90" font-size="10.5" font-weight="bold" text-anchor="middle" style="stroke:#111;stroke-width:.25px">–</text>
<text x="164.3" y="778.6" font-size="17" text-anchor="middle" style="fill:#222;stroke:#fff;stroke-width:.42px">+</text>
<text x="186.2" y="776.90" font-size="10.5" font-weight="bold" text-anchor="middle" style="stroke:#111;stroke-width:.25px">–</text>
<text x="211.1" y="778.6" font-size="17" text-anchor="middle" style="fill:#222;stroke:#fff;stroke-width:.42px">+</text>
<text x="235.2" y="776.90" font-size="10.5" font-weight="bold" text-anchor="middle" style="stroke:#111;stroke-width:.25px">–</text>
<text x="259.3" y="778.6" font-size="17" text-anchor="middle" style="fill:#222;stroke:#fff;stroke-width:.42px">+</text>
<line x1="82.7" y1="783.5" x2="123.5" y2="783.5" stroke="#a0a0a0" stroke-width="1.5"/>
<line x1="130.5" y1="783.5" x2="170.0" y2="783.5" stroke="#a0a0a0" stroke-width="1.5"/>
<line x1="177.4" y1="783.5" x2="217.7" y2="783.5" stroke="#333" stroke-width="0.9"/>
<line x1="226.2" y1="783.5" x2="266.4" y2="783.5" stroke="#333" stroke-width="0.9"/>
<text x="27.6" y="796.0" font-size="8.5" textLength="36.0" lengthAdjust="spacingAndGlyphs">ORY-1001</text>
<text x="104.2" y="795.80" font-size="10.5" font-weight="bold" text-anchor="middle" style="stroke:#111;stroke-width:.25px">–</text>
<text x="152.4" y="797.5" font-size="17" text-anchor="middle" style="fill:#222;stroke:#fff;stroke-width:.42px">+</text>
<text x="199.3" y="795.80" font-size="10.5" font-weight="bold" text-anchor="middle" style="stroke:#111;stroke-width:.25px">–</text>
<text x="247.5" y="797.5" font-size="17" text-anchor="middle" style="fill:#222;stroke:#fff;stroke-width:.42px">+</text>
<line x1="82.0" y1="802.5" x2="170.0" y2="802.5" stroke="#333" stroke-width="0.9"/>
<line x1="178.0" y1="802.5" x2="266.8" y2="802.5" stroke="#333" stroke-width="0.9"/>
<text x="26.8" y="816.0" font-size="8.5" textLength="37.6" lengthAdjust="spacingAndGlyphs">etoposide</text>
<text x="127.9" y="815.80" font-size="10.5" font-weight="bold" text-anchor="middle" style="stroke:#111;stroke-width:.25px">–</text>
<text x="223.4" y="816.0" font-size="17" text-anchor="middle" style="fill:#222;stroke:#fff;stroke-width:.42px">+</text>
<text x="329.6" y="654.0" font-size="14">i</text>
<rect x="379.3" y="768.1" width="15.1" height="7.2" fill="#000"/>
<rect x="403.4" y="773.8" width="14.8" height="1.4" fill="#000"/>
<rect x="427.0" y="698.0" width="15.3" height="77.2" fill="#000"/>
<rect x="451.1" y="761.6" width="15.3" height="13.6" fill="#000"/>
<line x1="374.5" y1="674.7" x2="374.5" y2="775.6" stroke="#262626" stroke-width="0.9"/>
<line x1="371.9" y1="775.5" x2="470.5" y2="775.5" stroke="#262626" stroke-width="0.9"/>
<line x1="371.9" y1="775.5" x2="374.9" y2="775.5" stroke="#262626" stroke-width="0.9"/>
<text x="366.0" y="778.0" font-size="8.2" text-anchor="end" fill="#222">0</text>
<line x1="371.9" y1="760.5" x2="374.9" y2="760.5" stroke="#262626" stroke-width="0.9"/>
<text x="366.0" y="764.0" font-size="8.2" text-anchor="end" fill="#222">2</text>
<line x1="371.9" y1="746.5" x2="374.9" y2="746.5" stroke="#262626" stroke-width="0.9"/>
<text x="366.0" y="749.0" font-size="8.2" text-anchor="end" fill="#222">4</text>
<line x1="371.9" y1="732.5" x2="374.9" y2="732.5" stroke="#262626" stroke-width="0.9"/>
<text x="366.0" y="735.0" font-size="8.2" text-anchor="end" fill="#222">6</text>
<line x1="371.9" y1="718.5" x2="374.9" y2="718.5" stroke="#262626" stroke-width="0.9"/>
<text x="366.0" y="721.0" font-size="8.2" text-anchor="end" fill="#222">8</text>
<line x1="371.9" y1="703.5" x2="374.9" y2="703.5" stroke="#262626" stroke-width="0.9"/>
<text x="366.0" y="706.0" font-size="8.2" text-anchor="end" fill="#222">10</text>
<line x1="371.9" y1="689.5" x2="374.9" y2="689.5" stroke="#262626" stroke-width="0.9"/>
<text x="366.0" y="692.0" font-size="8.2" text-anchor="end" fill="#222">12</text>
<line x1="371.9" y1="675.5" x2="374.9" y2="675.5" stroke="#262626" stroke-width="0.9"/>
<text x="366.0" y="678.0" font-size="8.2" text-anchor="end" fill="#222">14</text>
<line x1="386.5" y1="767.2" x2="386.5" y2="768.8" stroke="#a6a6a6" stroke-width="1.4"/>
<line x1="384.1" y1="767.5" x2="389.7" y2="767.5" stroke="#a6a6a6" stroke-width="1.4"/>
<line x1="384.1" y1="768.5" x2="389.7" y2="768.5" stroke="#a6a6a6" stroke-width="1.4"/>
<line x1="410.5" y1="773.4" x2="410.5" y2="774.1" stroke="#a6a6a6" stroke-width="1.4"/>
<line x1="408.0" y1="773.5" x2="413.6" y2="773.5" stroke="#a6a6a6" stroke-width="1.4"/>
<line x1="408.0" y1="774.5" x2="413.6" y2="774.5" stroke="#a6a6a6" stroke-width="1.4"/>
<line x1="434.5" y1="692.0" x2="434.5" y2="704.7" stroke="#a6a6a6" stroke-width="1.4"/>
<line x1="431.8" y1="691.5" x2="437.4" y2="691.5" stroke="#a6a6a6" stroke-width="1.4"/>
<line x1="431.8" y1="704.5" x2="437.4" y2="704.5" stroke="#a6a6a6" stroke-width="1.4"/>
<line x1="458.5" y1="760.2" x2="458.5" y2="762.9" stroke="#a6a6a6" stroke-width="1.4"/>
<line x1="455.9" y1="760.5" x2="461.6" y2="760.5" stroke="#a6a6a6" stroke-width="1.4"/>
<line x1="455.9" y1="762.5" x2="461.6" y2="762.5" stroke="#a6a6a6" stroke-width="1.4"/>
<line x1="386.2" y1="753.5" x2="411.8" y2="753.5" stroke="#a0a0a0" stroke-width="1.5"/>
<text x="399.8" y="753.0" font-size="14" text-anchor="middle" textLength="12.3" lengthAdjust="spacingAndGlyphs">**</text>
<line x1="434.5" y1="679.5" x2="460.3" y2="679.5" stroke="#333" stroke-width="1"/>
<text x="449.2" y="679.0" font-size="14" text-anchor="middle" textLength="19.0" lengthAdjust="spacingAndGlyphs">***</text>
<text transform="translate(347 721.0) rotate(-90)" x="0" y="0" font-size="8.5" text-anchor="middle" textLength="114.3" lengthAdjust="spacingAndGlyphs">Relative SLC52A1 mRNA levels</text>
<text x="321.8" y="789.0" font-size="8.5" textLength="40.3" lengthAdjust="spacingAndGlyphs" font-style="italic">si-SLC52A1</text>
<text x="385.8" y="790.10" font-size="10.5" font-weight="bold" text-anchor="middle" style="stroke:#111;stroke-width:.25px">–</text>
<text x="410.4" y="791.8" font-size="17" text-anchor="middle" style="fill:#222;stroke:#fff;stroke-width:.42px">+</text>
<text x="434.8" y="790.10" font-size="10.5" font-weight="bold" text-anchor="middle" style="stroke:#111;stroke-width:.25px">–</text>
<text x="458.9" y="791.8" font-size="17" text-anchor="middle" style="fill:#222;stroke:#fff;stroke-width:.42px">+</text>
<line x1="377.0" y1="795.5" x2="417.9" y2="795.5" stroke="#a0a0a0" stroke-width="1.5"/>
<line x1="426.2" y1="795.5" x2="465.9" y2="795.5" stroke="#a0a0a0" stroke-width="1.5"/>
<text x="321.8" y="809.0" font-size="8.5" textLength="38.0" lengthAdjust="spacingAndGlyphs">etoposide</text>
<text x="398.7" y="808.60" font-size="10.5" font-weight="bold" text-anchor="middle" style="stroke:#111;stroke-width:.25px">–</text>
<text x="447.3" y="809.3" font-size="17" text-anchor="middle" style="fill:#222;stroke:#fff;stroke-width:.42px">+</text>
<text x="495.2" y="655.0" font-size="14">j</text>
<text x="494.5" y="677.0" font-size="8.5" textLength="37.5" lengthAdjust="spacingAndGlyphs">etoposide</text>
<text x="574.0" y="677.40" font-size="10.5" font-weight="bold" text-anchor="middle" style="stroke:#111;stroke-width:.25px">–</text>
<text x="622.0" y="678.9" font-size="17" text-anchor="middle" style="fill:#222;stroke:#fff;stroke-width:.42px">+</text>
<line x1="553.6" y1="686.5" x2="594.0" y2="686.5" stroke="#333" stroke-width="0.9"/>
<line x1="602.2" y1="686.5" x2="642.3" y2="686.5" stroke="#333" stroke-width="0.9"/>
<text x="494.5" y="701.0" font-size="8.5" textLength="41.0" lengthAdjust="spacingAndGlyphs" font-style="italic">si-SLC52A1</text>
<text x="562.5" y="701.70" font-size="10.5" font-weight="bold" text-anchor="middle" style="stroke:#111;stroke-width:.25px">–</text>
<text x="587.1" y="703.4" font-size="17" text-anchor="middle" style="fill:#222;stroke:#fff;stroke-width:.42px">+</text>
<text x="611.1" y="701.70" font-size="10.5" font-weight="bold" text-anchor="middle" style="stroke:#111;stroke-width:.25px">–</text>
<text x="634.8" y="703.4" font-size="17" text-anchor="middle" style="fill:#222;stroke:#fff;stroke-width:.42px">+</text>
<text x="656.1" y="703.0" font-size="8.5" textLength="19.5" lengthAdjust="spacingAndGlyphs">(kDa)</text>
<text x="494.5" y="722.0" font-size="8.5" textLength="36.5" lengthAdjust="spacingAndGlyphs">H3K4me2</text>
<clipPath id="c21"><rect x="547.0" y="711.5" width="96.0" height="14.2"/></clipPath>
<g clip-path="url(#c21)">
<rect x="547.0" y="711.5" width="96.0" height="14.2" fill="#f4f4f4"/>
<g filter="url(#b1)">
<rect x="549.5" y="717.5" width="20.0" height="1.8" rx="0.9" fill="#b4b4b4"/>
<rect x="573.8" y="717.6" width="20.0" height="2.0" rx="1.0" fill="#adadad"/>
<rect x="598.8" y="716.8" width="18.0" height="2.0" rx="1.0" fill="#a8a8a8"/>
<rect x="622.5" y="716.0" width="20.0" height="2.8" rx="1.4" fill="#585858"/>
</g></g>
<rect x="547.0" y="711.5" width="96.0" height="14.2" fill="none" stroke="#111" stroke-width="1.3"/>
<line x1="643.0" y1="718.5" x2="649.0" y2="718.5" stroke="#111" stroke-width="1.2"/>
<text x="658.2" y="722.0" font-size="8.6" textLength="8.5" lengthAdjust="spacingAndGlyphs" fill="#222">15</text>
<text x="559.5" y="736.0" font-size="8.6" text-anchor="middle" textLength="11.2" lengthAdjust="spacingAndGlyphs" fill="#222">1.0</text>
<text x="583.8" y="736.0" font-size="8.6" text-anchor="middle" textLength="11.2" lengthAdjust="spacingAndGlyphs" fill="#222">0.9</text>
<text x="607.8" y="736.0" font-size="8.6" text-anchor="middle" textLength="11.2" lengthAdjust="spacingAndGlyphs" fill="#222">0.9</text>
<text x="632.5" y="736.0" font-size="8.6" text-anchor="middle" textLength="11.2" lengthAdjust="spacingAndGlyphs" fill="#222">3.0</text>
<text x="494.5" y="752.0" font-size="8.5" textLength="36.5" lengthAdjust="spacingAndGlyphs">H3K9me2</text>
<clipPath id="c22"><rect x="547.0" y="741.2" width="96.0" height="15.4"/></clipPath>
<g clip-path="url(#c22)">
<rect x="547.0" y="741.2" width="96.0" height="15.4" fill="#f4f4f4"/>
<g filter="url(#b1)">
<rect x="550.5" y="746.7" width="18.0" height="1.8" rx="0.9" fill="#c6c6c6"/>
<rect x="574.8" y="746.9" width="18.0" height="1.8" rx="0.9" fill="#c2c2c2"/>
<rect x="598.8" y="747.4" width="18.0" height="2.0" rx="1.0" fill="#b8b8b8"/>
<rect x="622.5" y="748.6" width="20.0" height="2.8" rx="1.4" fill="#787878"/>
</g></g>
<rect x="547.0" y="741.2" width="96.0" height="15.4" fill="none" stroke="#111" stroke-width="1.3"/>
<line x1="643.0" y1="745.5" x2="649.0" y2="745.5" stroke="#111" stroke-width="1.2"/>
<text x="658.2" y="750.0" font-size="8.6" textLength="8.5" lengthAdjust="spacingAndGlyphs" fill="#222">15</text>
<text x="558.5" y="768.0" font-size="8.6" text-anchor="middle" textLength="11.2" lengthAdjust="spacingAndGlyphs" fill="#222">1.0</text>
<text x="582.8" y="768.0" font-size="8.6" text-anchor="middle" textLength="11.2" lengthAdjust="spacingAndGlyphs" fill="#222">1.0</text>
<text x="606.8" y="768.0" font-size="8.6" text-anchor="middle" textLength="11.2" lengthAdjust="spacingAndGlyphs" fill="#222">1.3</text>
<text x="631.5" y="768.0" font-size="8.6" text-anchor="middle" textLength="11.2" lengthAdjust="spacingAndGlyphs" fill="#222">4.3</text>
<text x="493.8" y="784.0" font-size="8.5" textLength="41.5" lengthAdjust="spacingAndGlyphs">histone H3</text>
<clipPath id="c23"><rect x="547.0" y="772.2" width="96.0" height="15.2"/></clipPath>
<g clip-path="url(#c23)">
<rect x="547.0" y="772.2" width="96.0" height="15.2" fill="#e3e3e3"/>
<g filter="url(#b2)">
<rect x="548.0" y="778.5" width="23.0" height="5.0" rx="2.5" fill="#7e7e7e"/>
<rect x="572.3" y="778.5" width="23.0" height="5.0" rx="2.5" fill="#7a7a7a"/>
<rect x="596.3" y="778.1" width="23.0" height="5.0" rx="2.5" fill="#787878"/>
<rect x="621.0" y="777.1" width="23.0" height="5.8" rx="2.9" fill="#6a6a6a"/>
</g></g>
<rect x="547.0" y="772.2" width="96.0" height="15.2" fill="none" stroke="#111" stroke-width="1.3"/>
<line x1="643.0" y1="780.5" x2="649.0" y2="780.5" stroke="#111" stroke-width="1.2"/>
<text x="658.2" y="784.0" font-size="8.6" textLength="8.5" lengthAdjust="spacingAndGlyphs" fill="#222">15</text>
<text x="494.5" y="800.0" font-size="8.5" textLength="50.5" lengthAdjust="spacingAndGlyphs">p53K370me2</text>
<clipPath id="c24"><rect x="547.0" y="790.0" width="96.0" height="12.8"/></clipPath>
<g clip-path="url(#c24)">
<rect x="547.0" y="790.0" width="96.0" height="12.8" fill="#e6e6e6"/>
<g filter="url(#b1)">
<rect x="548.5" y="795.6" width="22.0" height="2.4" rx="1.2" fill="#b6b6b6"/>
<rect x="572.8" y="795.6" width="22.0" height="2.8" rx="1.4" fill="#a8a8a8"/>
<rect x="596.8" y="795.0" width="22.0" height="2.4" rx="1.2" fill="#b0b0b0"/>
<rect x="621.5" y="794.9" width="22.0" height="2.6" rx="1.3" fill="#a8a8a8"/>
</g></g>
<rect x="547.0" y="790.0" width="96.0" height="12.8" fill="none" stroke="#111" stroke-width="1.3"/>
<line x1="643.0" y1="800.5" x2="649.0" y2="800.5" stroke="#111" stroke-width="1.2"/>
<text x="658.2" y="804.0" font-size="8.6" textLength="8.5" lengthAdjust="spacingAndGlyphs" fill="#222">45</text>
<text x="558.0" y="813.0" font-size="8.6" text-anchor="middle" textLength="11.2" lengthAdjust="spacingAndGlyphs" fill="#222">1.0</text>
<text x="582.3" y="813.0" font-size="8.6" text-anchor="middle" textLength="11.2" lengthAdjust="spacingAndGlyphs" fill="#222">1.0</text>
<text x="606.3" y="813.0" font-size="8.6" text-anchor="middle" textLength="11.2" lengthAdjust="spacingAndGlyphs" fill="#222">0.6</text>
<text x="631.0" y="813.0" font-size="8.6" text-anchor="middle" textLength="11.2" lengthAdjust="spacingAndGlyphs" fill="#222">0.7</text>
<text x="494.5" y="827.0" font-size="8.5" textLength="13.5" lengthAdjust="spacingAndGlyphs">p53</text>
<clipPath id="c25"><rect x="547.0" y="816.2" width="96.0" height="13.3"/></clipPath>
<g clip-path="url(#c25)">
<rect x="547.0" y="816.2" width="96.0" height="13.3" fill="#ececec"/>
<g filter="url(#b1)">
<rect x="548.5" y="821.1" width="22.0" height="1.8" rx="0.9" fill="#a6a6a6"/>
<rect x="572.8" y="821.5" width="22.0" height="2.2" rx="1.1" fill="#989898"/>
<rect x="596.3" y="820.8" width="23.0" height="3.2" rx="1.6" fill="#808080"/>
<rect x="621.5" y="821.3" width="22.0" height="2.6" rx="1.3" fill="#8c8c8c"/>
</g></g>
<rect x="547.0" y="816.2" width="96.0" height="13.3" fill="none" stroke="#111" stroke-width="1.3"/>
<line x1="643.0" y1="827.5" x2="649.0" y2="827.5" stroke="#111" stroke-width="1.2"/>
<text x="658.2" y="831.0" font-size="8.6" textLength="8.5" lengthAdjust="spacingAndGlyphs" fill="#222">45</text>
<text x="494.5" y="842.0" font-size="8.5" textLength="33.0" lengthAdjust="spacingAndGlyphs">γ-tubulin</text>
<clipPath id="c26"><rect x="547.0" y="831.9" width="96.0" height="13.1"/></clipPath>
<g clip-path="url(#c26)">
<rect x="547.0" y="831.9" width="96.0" height="13.1" fill="#dedede"/>
<g filter="url(#b1)">
<rect x="547.5" y="836.6" width="24.0" height="3.6" rx="1.8" fill="#7c7c7c"/>
<rect x="571.8" y="836.8" width="24.0" height="3.6" rx="1.8" fill="#787878"/>
<rect x="595.8" y="836.6" width="24.0" height="3.6" rx="1.8" fill="#7c7c7c"/>
<rect x="620.5" y="836.4" width="24.0" height="3.6" rx="1.8" fill="#808080"/>
</g></g>
<rect x="547.0" y="831.9" width="96.0" height="13.1" fill="none" stroke="#111" stroke-width="1.3"/>
<line x1="643.0" y1="837.5" x2="649.0" y2="837.5" stroke="#111" stroke-width="1.2"/>
<text x="658.2" y="841.0" font-size="8.6" textLength="8.5" lengthAdjust="spacingAndGlyphs" fill="#222">45</text>
<text x="22.3" y="866.0" font-size="14">k</text>
<rect x="69.9" y="957.9" width="15.3" height="28.4" fill="#000"/>
<rect x="93.8" y="956.5" width="15.3" height="29.8" fill="#000"/>
<rect x="117.9" y="935.8" width="15.3" height="50.5" fill="#000"/>
<rect x="141.5" y="906.9" width="15.3" height="79.4" fill="#000"/>
<line x1="65.5" y1="886.6" x2="65.5" y2="986.7" stroke="#262626" stroke-width="0.9"/>
<line x1="62.6" y1="986.5" x2="161.0" y2="986.5" stroke="#262626" stroke-width="0.9"/>
<line x1="62.6" y1="986.5" x2="65.6" y2="986.5" stroke="#262626" stroke-width="0.9"/>
<text x="56.5" y="989.0" font-size="8.2" text-anchor="end" fill="#222">0</text>
<line x1="62.6" y1="972.5" x2="65.6" y2="972.5" stroke="#262626" stroke-width="0.9"/>
<text x="56.5" y="975.0" font-size="8.2" text-anchor="end" fill="#222">0.5</text>
<line x1="62.6" y1="957.5" x2="65.6" y2="957.5" stroke="#262626" stroke-width="0.9"/>
<text x="56.5" y="961.0" font-size="8.2" text-anchor="end" fill="#222">1</text>
<line x1="62.6" y1="943.5" x2="65.6" y2="943.5" stroke="#262626" stroke-width="0.9"/>
<text x="56.5" y="946.0" font-size="8.2" text-anchor="end" fill="#222">1.5</text>
<line x1="62.6" y1="929.5" x2="65.6" y2="929.5" stroke="#262626" stroke-width="0.9"/>
<text x="56.5" y="932.0" font-size="8.2" text-anchor="end" fill="#222">2</text>
<line x1="62.6" y1="915.5" x2="65.6" y2="915.5" stroke="#262626" stroke-width="0.9"/>
<text x="56.5" y="918.0" font-size="8.2" text-anchor="end" fill="#222">2.5</text>
<line x1="62.6" y1="901.5" x2="65.6" y2="901.5" stroke="#262626" stroke-width="0.9"/>
<text x="56.5" y="904.0" font-size="8.2" text-anchor="end" fill="#222">3</text>
<line x1="62.6" y1="887.5" x2="65.6" y2="887.5" stroke="#262626" stroke-width="0.9"/>
<text x="56.5" y="890.0" font-size="8.2" text-anchor="end" fill="#222">3.5</text>
<line x1="77.5" y1="957.1" x2="77.5" y2="958.8" stroke="#a6a6a6" stroke-width="1.4"/>
<line x1="74.8" y1="957.5" x2="80.4" y2="957.5" stroke="#a6a6a6" stroke-width="1.4"/>
<line x1="74.8" y1="958.5" x2="80.4" y2="958.5" stroke="#a6a6a6" stroke-width="1.4"/>
<line x1="101.5" y1="954.8" x2="101.5" y2="958.2" stroke="#a6a6a6" stroke-width="1.4"/>
<line x1="98.6" y1="954.5" x2="104.2" y2="954.5" stroke="#a6a6a6" stroke-width="1.4"/>
<line x1="98.6" y1="958.5" x2="104.2" y2="958.5" stroke="#a6a6a6" stroke-width="1.4"/>
<line x1="125.5" y1="933.0" x2="125.5" y2="939.2" stroke="#a6a6a6" stroke-width="1.4"/>
<line x1="122.8" y1="932.5" x2="128.3" y2="932.5" stroke="#a6a6a6" stroke-width="1.4"/>
<line x1="122.8" y1="939.5" x2="128.3" y2="939.5" stroke="#a6a6a6" stroke-width="1.4"/>
<line x1="149.5" y1="900.3" x2="149.5" y2="913.4" stroke="#a6a6a6" stroke-width="1.4"/>
<line x1="146.3" y1="900.5" x2="152.0" y2="900.5" stroke="#a6a6a6" stroke-width="1.4"/>
<line x1="146.3" y1="913.5" x2="152.0" y2="913.5" stroke="#a6a6a6" stroke-width="1.4"/>
<line x1="122.0" y1="886.5" x2="148.4" y2="886.5" stroke="#a0a0a0" stroke-width="1.5"/>
<text x="136.5" y="885.0" font-size="14" text-anchor="middle" textLength="19.0" lengthAdjust="spacingAndGlyphs">***</text>
<text transform="translate(39 932.6) rotate(-90)" x="0" y="0" font-size="8.5" text-anchor="middle" textLength="114.8" lengthAdjust="spacingAndGlyphs">Relative Sirtuin-4 mRNA levels</text>
<text x="13.7" y="1000.0" font-size="8.5" textLength="40.4" lengthAdjust="spacingAndGlyphs" font-style="italic">si-SLC52A1</text>
<text x="77.1" y="1001.00" font-size="10.5" font-weight="bold" text-anchor="middle" style="stroke:#111;stroke-width:.25px">–</text>
<text x="101.8" y="1002.7" font-size="17" text-anchor="middle" style="fill:#222;stroke:#fff;stroke-width:.42px">+</text>
<text x="126.8" y="1001.00" font-size="10.5" font-weight="bold" text-anchor="middle" style="stroke:#111;stroke-width:.25px">–</text>
<text x="150.6" y="1002.7" font-size="17" text-anchor="middle" style="fill:#222;stroke:#fff;stroke-width:.42px">+</text>
<line x1="68.8" y1="1007.5" x2="109.6" y2="1007.5" stroke="#333" stroke-width="0.9"/>
<line x1="117.9" y1="1007.5" x2="158.1" y2="1007.5" stroke="#333" stroke-width="0.9"/>
<text x="28.2" y="1018.0" font-size="8.5" textLength="37.4" lengthAdjust="spacingAndGlyphs">etoposide</text>
<text x="90.5" y="1019.50" font-size="10.5" font-weight="bold" text-anchor="middle" style="stroke:#111;stroke-width:.25px">–</text>
<text x="138.7" y="1020.7" font-size="17" text-anchor="middle" style="fill:#222;stroke:#fff;stroke-width:.42px">+</text>
<text x="187.8" y="865.0" font-size="14">l</text>
<rect x="235.2" y="952.8" width="16.2" height="33.1" fill="#000"/>
<rect x="259.3" y="970.0" width="16.2" height="15.9" fill="#000"/>
<rect x="283.2" y="919.8" width="16.4" height="66.1" fill="#000"/>
<rect x="307.3" y="903.9" width="16.2" height="82.0" fill="#000"/>
<line x1="231.5" y1="886.3" x2="231.5" y2="986.3" stroke="#262626" stroke-width="0.9"/>
<line x1="228.7" y1="985.5" x2="327.5" y2="985.5" stroke="#262626" stroke-width="0.9"/>
<line x1="228.7" y1="985.5" x2="231.7" y2="985.5" stroke="#262626" stroke-width="0.9"/>
<text x="222.3" y="989.0" font-size="8.2" text-anchor="end" fill="#222">0</text>
<line x1="228.7" y1="969.5" x2="231.7" y2="969.5" stroke="#262626" stroke-width="0.9"/>
<text x="222.3" y="972.0" font-size="8.2" text-anchor="end" fill="#222">0.5</text>
<line x1="228.7" y1="952.5" x2="231.7" y2="952.5" stroke="#262626" stroke-width="0.9"/>
<text x="222.3" y="956.0" font-size="8.2" text-anchor="end" fill="#222">1</text>
<line x1="228.7" y1="936.5" x2="231.7" y2="936.5" stroke="#262626" stroke-width="0.9"/>
<text x="222.3" y="939.0" font-size="8.2" text-anchor="end" fill="#222">1.5</text>
<line x1="228.7" y1="919.5" x2="231.7" y2="919.5" stroke="#262626" stroke-width="0.9"/>
<text x="222.3" y="922.0" font-size="8.2" text-anchor="end" fill="#222">2</text>
<line x1="228.7" y1="903.5" x2="231.7" y2="903.5" stroke="#262626" stroke-width="0.9"/>
<text x="222.3" y="906.0" font-size="8.2" text-anchor="end" fill="#222">2.5</text>
<line x1="228.7" y1="886.5" x2="231.7" y2="886.5" stroke="#262626" stroke-width="0.9"/>
<text x="222.3" y="889.0" font-size="8.2" text-anchor="end" fill="#222">3</text>
<line x1="243.5" y1="952.2" x2="243.5" y2="953.5" stroke="#a6a6a6" stroke-width="1.4"/>
<line x1="240.5" y1="952.5" x2="246.1" y2="952.5" stroke="#a6a6a6" stroke-width="1.4"/>
<line x1="240.5" y1="953.5" x2="246.1" y2="953.5" stroke="#a6a6a6" stroke-width="1.4"/>
<line x1="267.5" y1="969.4" x2="267.5" y2="970.7" stroke="#a6a6a6" stroke-width="1.4"/>
<line x1="264.6" y1="969.5" x2="270.2" y2="969.5" stroke="#a6a6a6" stroke-width="1.4"/>
<line x1="264.6" y1="970.5" x2="270.2" y2="970.5" stroke="#a6a6a6" stroke-width="1.4"/>
<line x1="291.5" y1="917.1" x2="291.5" y2="922.1" stroke="#a6a6a6" stroke-width="1.4"/>
<line x1="288.6" y1="917.5" x2="294.2" y2="917.5" stroke="#a6a6a6" stroke-width="1.4"/>
<line x1="288.6" y1="922.5" x2="294.2" y2="922.5" stroke="#a6a6a6" stroke-width="1.4"/>
<line x1="315.5" y1="902.2" x2="315.5" y2="905.9" stroke="#a6a6a6" stroke-width="1.4"/>
<line x1="312.6" y1="902.5" x2="318.2" y2="902.5" stroke="#a6a6a6" stroke-width="1.4"/>
<line x1="312.6" y1="905.5" x2="318.2" y2="905.5" stroke="#a6a6a6" stroke-width="1.4"/>
<line x1="289.3" y1="892.5" x2="314.8" y2="892.5" stroke="#333" stroke-width="1"/>
<text x="303.7" y="892.0" font-size="14" text-anchor="middle" textLength="19.0" lengthAdjust="spacingAndGlyphs">***</text>
<text transform="translate(204 932.0) rotate(-90)" x="0" y="0" font-size="8.5" text-anchor="middle" textLength="96.8" lengthAdjust="spacingAndGlyphs">Relative p21 mRNA levels</text>
<text x="179.6" y="1000.0" font-size="8.5" textLength="40.4" lengthAdjust="spacingAndGlyphs" font-style="italic">si-SLC52A1</text>
<text x="243.0" y="1000.50" font-size="10.5" font-weight="bold" text-anchor="middle" style="stroke:#111;stroke-width:.25px">–</text>
<text x="267.6" y="1002.2" font-size="17" text-anchor="middle" style="fill:#222;stroke:#fff;stroke-width:.42px">+</text>
<text x="292.6" y="1000.50" font-size="10.5" font-weight="bold" text-anchor="middle" style="stroke:#111;stroke-width:.25px">–</text>
<text x="316.5" y="1002.2" font-size="17" text-anchor="middle" style="fill:#222;stroke:#fff;stroke-width:.42px">+</text>
<line x1="234.2" y1="1006.5" x2="274.9" y2="1006.5" stroke="#a0a0a0" stroke-width="1.5"/>
<line x1="283.2" y1="1006.5" x2="323.4" y2="1006.5" stroke="#a0a0a0" stroke-width="1.5"/>
<text x="179.6" y="1020.0" font-size="8.5" textLength="37.5" lengthAdjust="spacingAndGlyphs">etoposide</text>
<text x="256.2" y="1019.60" font-size="10.5" font-weight="bold" text-anchor="middle" style="stroke:#111;stroke-width:.25px">–</text>
<text x="304.5" y="1021.1" font-size="17" text-anchor="middle" style="fill:#222;stroke:#fff;stroke-width:.42px">+</text>
<text x="367.2" y="878.0" font-size="14.5">m</text>
<text x="367.5" y="900.0" font-size="8.5" textLength="37.5" lengthAdjust="spacingAndGlyphs">etoposide</text>
<text x="446.6" y="901.10" font-size="10.5" font-weight="bold" text-anchor="middle" style="stroke:#111;stroke-width:.25px">–</text>
<text x="494.7" y="902.6" font-size="17" text-anchor="middle" style="fill:#222;stroke:#fff;stroke-width:.42px">+</text>
<line x1="426.6" y1="909.5" x2="467.1" y2="909.5" stroke="#333" stroke-width="0.9"/>
<line x1="475.7" y1="909.5" x2="515.5" y2="909.5" stroke="#333" stroke-width="0.9"/>
<text x="367.5" y="924.0" font-size="8.5" textLength="40.7" lengthAdjust="spacingAndGlyphs" font-style="italic">si-SLC52A1</text>
<text x="435.2" y="925.00" font-size="10.5" font-weight="bold" text-anchor="middle" style="stroke:#111;stroke-width:.25px">–</text>
<text x="460.4" y="926.7" font-size="17" text-anchor="middle" style="fill:#222;stroke:#fff;stroke-width:.42px">+</text>
<text x="484.9" y="925.00" font-size="10.5" font-weight="bold" text-anchor="middle" style="stroke:#111;stroke-width:.25px">–</text>
<text x="507.9" y="926.7" font-size="17" text-anchor="middle" style="fill:#222;stroke:#fff;stroke-width:.42px">+</text>
<text x="528.7" y="926.0" font-size="8.5" textLength="20.0" lengthAdjust="spacingAndGlyphs">(kDa)</text>
<text x="367.5" y="945.0" font-size="8.5" textLength="33.0" lengthAdjust="spacingAndGlyphs">Sirtuin-4</text>
<clipPath id="c27"><rect x="420.1" y="934.4" width="96.2" height="14.1"/></clipPath>
<g clip-path="url(#c27)">
<rect x="420.1" y="934.4" width="96.2" height="14.1" fill="#c2c2c2"/>
<g filter="url(#b1)">
<rect x="423.2" y="939.0" width="18.0" height="4.0" rx="2.0" fill="#b2b2b2"/>
<rect x="446.9" y="938.5" width="22.0" height="3.4" rx="1.7" fill="#868686"/>
<rect x="471.8" y="939.1" width="20.0" height="3.0" rx="1.5" fill="#9c9c9c"/>
<rect x="495.3" y="938.0" width="22.0" height="3.6" rx="1.8" fill="#6c6c6c"/>
<rect x="451.8" y="943.0" width="60.0" height="4.0" rx="2.0" fill="#b6b6b6"/>
</g></g>
<rect x="420.1" y="934.4" width="96.2" height="14.1" fill="none" stroke="#111" stroke-width="1.3"/>
<line x1="516.3" y1="935.5" x2="522.0" y2="935.5" stroke="#111" stroke-width="1.2"/>
<text x="531.4" y="939.0" font-size="8.6" textLength="8.6" lengthAdjust="spacingAndGlyphs" fill="#222">35</text>
<text x="432.2" y="960.0" font-size="8.6" text-anchor="middle" textLength="11.2" lengthAdjust="spacingAndGlyphs" fill="#222">1.0</text>
<text x="457.9" y="960.0" font-size="8.6" text-anchor="middle" textLength="11.2" lengthAdjust="spacingAndGlyphs" fill="#222">1.4</text>
<text x="481.8" y="960.0" font-size="8.6" text-anchor="middle" textLength="11.2" lengthAdjust="spacingAndGlyphs" fill="#222">0.9</text>
<text x="506.3" y="960.0" font-size="8.6" text-anchor="middle" textLength="11.2" lengthAdjust="spacingAndGlyphs" fill="#222">2.0</text>
<text x="367.5" y="976.0" font-size="8.5" textLength="13.4" lengthAdjust="spacingAndGlyphs">p21</text>
<clipPath id="c28"><rect x="420.1" y="964.5" width="96.2" height="12.9"/></clipPath>
<g clip-path="url(#c28)">
<rect x="420.1" y="964.5" width="96.2" height="12.9" fill="#eaeaea"/>
<g filter="url(#b1)">
<rect x="427.2" y="970.6" width="10.0" height="1.6" rx="0.8" fill="#e0e0e0"/>
<rect x="452.9" y="970.6" width="10.0" height="1.6" rx="0.8" fill="#e0e0e0"/>
<rect x="471.8" y="969.9" width="20.0" height="2.6" rx="1.3" fill="#a6a6a6"/>
<rect x="496.8" y="969.3" width="19.0" height="2.6" rx="1.3" fill="#9a9a9a"/>
</g></g>
<rect x="420.1" y="964.5" width="96.2" height="12.9" fill="none" stroke="#111" stroke-width="1.3"/>
<line x1="516.3" y1="967.5" x2="522.0" y2="967.5" stroke="#111" stroke-width="1.2"/>
<text x="531.4" y="971.0" font-size="8.6" textLength="8.6" lengthAdjust="spacingAndGlyphs" fill="#222">20</text>
<text x="432.2" y="991.0" font-size="8.6" text-anchor="middle" textLength="11.2" lengthAdjust="spacingAndGlyphs" fill="#222">1.0</text>
<text x="457.9" y="991.0" font-size="8.6" text-anchor="middle" textLength="11.2" lengthAdjust="spacingAndGlyphs" fill="#222">0.7</text>
<text x="481.8" y="991.0" font-size="8.6" text-anchor="middle" textLength="15.8" lengthAdjust="spacingAndGlyphs" fill="#222">14.5</text>
<text x="506.3" y="991.0" font-size="8.6" text-anchor="middle" textLength="15.8" lengthAdjust="spacingAndGlyphs" fill="#222">20.5</text>
<text x="367.5" y="1006.0" font-size="8.5" textLength="34.0" lengthAdjust="spacingAndGlyphs">γ-tubulin</text>
<clipPath id="c29"><rect x="420.1" y="995.4" width="96.2" height="18.6"/></clipPath>
<g clip-path="url(#c29)">
<rect x="420.1" y="995.4" width="96.2" height="18.6" fill="#e8e8e8"/>
<g filter="url(#b1)">
<rect x="447.4" y="1001.5" width="21.0" height="5.4" rx="2.7" fill="#c0c0c0"/>
<rect x="470.8" y="1000.7" width="22.0" height="5.8" rx="2.9" fill="#b6b6b6"/>
<rect x="495.8" y="1001.3" width="21.0" height="5.8" rx="2.9" fill="#bcbcbc"/>
<rect x="421.7" y="1004.5" width="21.0" height="2.2" rx="1.1" fill="#9a9a9a"/>
<rect x="428.2" y="1003.2" width="8.0" height="1.6" rx="0.8" fill="#aaa"/>
<rect x="447.4" y="1002.0" width="21.0" height="2.0" rx="1.0" fill="#747474"/>
<rect x="447.4" y="1004.6" width="21.0" height="2.0" rx="1.0" fill="#828282"/>
<rect x="470.8" y="1001.1" width="22.0" height="2.2" rx="1.1" fill="#626262"/>
<rect x="470.8" y="1003.8" width="22.0" height="2.4" rx="1.2" fill="#747474"/>
<rect x="495.8" y="1001.7" width="21.0" height="2.2" rx="1.1" fill="#6c6c6c"/>
<rect x="495.8" y="1004.4" width="21.0" height="2.4" rx="1.2" fill="#7c7c7c"/>
</g></g>
<rect x="420.1" y="995.4" width="96.2" height="18.6" fill="none" stroke="#111" stroke-width="1.3"/>
<line x1="516.3" y1="1003.5" x2="522.0" y2="1003.5" stroke="#111" stroke-width="1.2"/>
<text x="531.4" y="1007.0" font-size="8.6" textLength="8.6" lengthAdjust="spacingAndGlyphs" fill="#222">45</text>
</svg>
</body></html>
